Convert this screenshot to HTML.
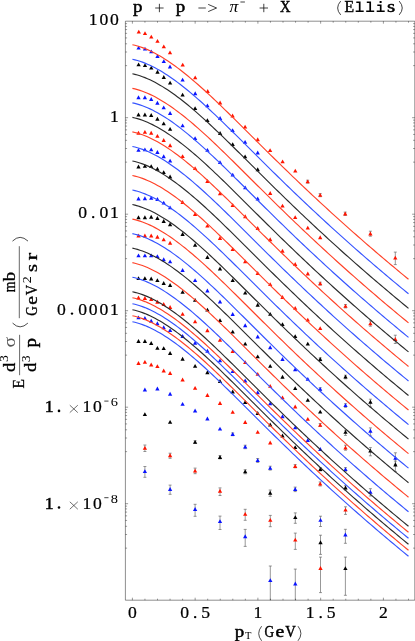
<!DOCTYPE html>
<html><head><meta charset="utf-8"><title>plot</title>
<style>html,body{margin:0;padding:0;background:#fff}svg{display:block}text{fill:#000}</style></head>
<body><svg width="415" height="641" viewBox="0 0 415 641" style="will-change:transform">
<rect width="415" height="641" fill="#fff"/>
<path d="M307.70,180.20V183.10M306.20,180.20h3M306.20,183.10h3M320.20,193.60V196.70M318.70,193.60h3M318.70,196.70h3M345.20,212.10V215.50M343.70,212.10h3M343.70,215.50h3M370.40,231.20V236.20M368.90,231.20h3M368.90,236.20h3M395.30,252.10V264.60M393.80,252.10h3M393.80,264.60h3M320.20,282.20V285.10M318.70,282.20h3M318.70,285.10h3M345.50,304.50V307.90M344.00,304.50h3M344.00,307.90h3M370.40,321.00V326.20M368.90,321.00h3M368.90,326.20h3M395.30,335.20V343.50M393.80,335.20h3M393.80,343.50h3M320.20,357.80V360.70M318.70,357.80h3M318.70,360.70h3M345.50,375.20V378.80M344.00,375.20h3M344.00,378.80h3M370.40,399.20V406.90M368.90,399.20h3M368.90,406.90h3M320.20,387.70V390.60M318.70,387.70h3M318.70,390.60h3M345.50,403.70V407.30M344.00,403.70h3M344.00,407.30h3M370.40,427.90V435.90M368.90,427.90h3M368.90,435.90h3M395.40,452.80V464.30M393.90,452.80h3M393.90,464.30h3M345.50,430.20V435.40M344.00,430.20h3M344.00,435.40h3M370.40,447.60V455.80M368.90,447.60h3M368.90,455.80h3M395.40,461.10V471.60M393.90,461.10h3M393.90,471.60h3M320.20,423.50V426.50M318.70,423.50h3M318.70,426.50h3M345.50,445.20V450.20M344.00,445.20h3M344.00,450.20h3M345.50,467.60V471.30M344.00,467.60h3M344.00,471.30h3M370.40,488.70V496.00M368.90,488.70h3M368.90,496.00h3M320.40,467.50V470.90M318.90,467.50h3M318.90,470.90h3M345.50,485.70V490.10M344.00,485.70h3M344.00,490.10h3M295.20,464.60V467.80M293.70,464.60h3M293.70,467.80h3M320.20,481.90V486.00M318.70,481.90h3M318.70,486.00h3M345.50,506.80V514.40M344.00,506.80h3M344.00,514.40h3M232.70,432.90V435.70M231.20,432.90h3M231.20,435.70h3M245.20,445.20V448.70M243.70,445.20h3M243.70,448.70h3M257.70,458.50V462.40M256.20,458.50h3M256.20,462.40h3M270.20,466.20V470.10M268.70,466.20h3M268.70,470.10h3M295.20,487.10V491.60M293.70,487.10h3M293.70,491.60h3M320.50,516.20V526.50M319.00,516.20h3M319.00,526.50h3M345.40,529.30V543.30M343.90,529.30h3M343.90,543.30h3M195.10,440.70V443.50M193.60,440.70h3M193.60,443.50h3M220.00,455.60V458.90M218.50,455.60h3M218.50,458.90h3M245.20,469.70V473.80M243.70,469.70h3M243.70,473.80h3M270.20,490.00V496.30M268.70,490.00h3M268.70,496.30h3M295.30,512.90V523.30M293.80,512.90h3M293.80,523.30h3M320.50,535.20V554.40M319.00,535.20h3M319.00,554.40h3M345.40,557.10V595.30M343.90,557.10h3M343.90,595.30h3M144.90,445.00V451.50M143.40,445.00h3M143.40,451.50h3M170.10,453.20V458.30M168.60,453.20h3M168.60,458.30h3M195.10,468.10V473.70M193.60,468.10h3M193.60,473.70h3M220.00,487.90V495.50M218.50,487.90h3M218.50,495.50h3M245.20,509.30V520.30M243.70,509.30h3M243.70,520.30h3M270.30,515.40V526.70M268.80,515.40h3M268.80,526.70h3M295.30,533.10V549.40M293.80,533.10h3M293.80,549.40h3M320.50,557.10V592.60M319.00,557.10h3M319.00,592.60h3M144.90,466.50V477.30M143.40,466.50h3M143.40,477.30h3M170.10,485.10V494.30M168.60,485.10h3M168.60,494.30h3M195.10,504.30V516.30M193.60,504.30h3M193.60,516.30h3M220.00,516.10V529.50M218.50,516.10h3M218.50,529.50h3M245.20,529.40V546.40M243.70,529.40h3M243.70,546.40h3M270.30,566.00V600.20M268.80,566.00h3M295.30,569.10V600.20M293.80,569.10h3" stroke="#606060" stroke-width="0.65" fill="none"/>
<path d="M136.65,33.60L140.95,33.60L138.80,29.70Z" fill="#ff1400"/>
<path d="M142.85,35.10L147.15,35.10L145.00,31.20Z" fill="#ff1400"/>
<path d="M149.15,38.60L153.45,38.60L151.30,34.70Z" fill="#ff1400"/>
<path d="M155.35,42.80L159.65,42.80L157.50,38.90Z" fill="#ff1400"/>
<path d="M161.65,48.30L165.95,48.30L163.80,44.40Z" fill="#ff1400"/>
<path d="M167.85,54.30L172.15,54.30L170.00,50.40Z" fill="#ff1400"/>
<path d="M180.55,66.60L184.85,66.60L182.70,62.70Z" fill="#ff1400"/>
<path d="M193.05,79.30L197.35,79.30L195.20,75.40Z" fill="#ff1400"/>
<path d="M205.55,92.90L209.85,92.90L207.70,89.00Z" fill="#ff1400"/>
<path d="M217.95,104.50L222.25,104.50L220.10,100.60Z" fill="#ff1400"/>
<path d="M230.45,117.40L234.75,117.40L232.60,113.50Z" fill="#ff1400"/>
<path d="M242.95,128.60L247.25,128.60L245.10,124.70Z" fill="#ff1400"/>
<path d="M255.55,141.20L259.85,141.20L257.70,137.30Z" fill="#ff1400"/>
<path d="M267.95,152.10L272.25,152.10L270.10,148.20Z" fill="#ff1400"/>
<path d="M280.45,163.30L284.75,163.30L282.60,159.40Z" fill="#ff1400"/>
<path d="M293.15,172.60L297.45,172.60L295.30,168.70Z" fill="#ff1400"/>
<path d="M305.55,183.30L309.85,183.30L307.70,179.40Z" fill="#ff1400"/>
<path d="M318.05,196.80L322.35,196.80L320.20,192.90Z" fill="#ff1400"/>
<path d="M343.05,215.40L347.35,215.40L345.20,211.50Z" fill="#ff1400"/>
<path d="M368.25,235.50L372.55,235.50L370.40,231.60Z" fill="#ff1400"/>
<path d="M393.15,259.60L397.45,259.60L395.30,255.70Z" fill="#ff1400"/>
<path d="M136.45,49.60L140.75,49.60L138.60,45.70Z" fill="#0a14ff"/>
<path d="M142.85,50.60L147.15,50.60L145.00,46.70Z" fill="#0a14ff"/>
<path d="M149.15,53.30L153.45,53.30L151.30,49.40Z" fill="#0a14ff"/>
<path d="M155.35,57.90L159.65,57.90L157.50,54.00Z" fill="#0a14ff"/>
<path d="M161.65,63.10L165.95,63.10L163.80,59.20Z" fill="#0a14ff"/>
<path d="M167.85,68.50L172.15,68.50L170.00,64.60Z" fill="#0a14ff"/>
<path d="M180.45,81.60L184.75,81.60L182.60,77.70Z" fill="#0a14ff"/>
<path d="M193.05,95.20L197.35,95.20L195.20,91.30Z" fill="#0a14ff"/>
<path d="M205.25,107.30L209.55,107.30L207.40,103.40Z" fill="#0a14ff"/>
<path d="M217.95,119.90L222.25,119.90L220.10,116.00Z" fill="#0a14ff"/>
<path d="M230.45,132.10L234.75,132.10L232.60,128.20Z" fill="#0a14ff"/>
<path d="M242.95,143.80L247.25,143.80L245.10,139.90Z" fill="#0a14ff"/>
<path d="M255.55,154.40L259.85,154.40L257.70,150.50Z" fill="#0a14ff"/>
<path d="M136.45,66.30L140.75,66.30L138.60,62.40Z" fill="#000000"/>
<path d="M142.85,67.10L147.15,67.10L145.00,63.20Z" fill="#000000"/>
<path d="M149.15,69.60L153.45,69.60L151.30,65.70Z" fill="#000000"/>
<path d="M155.35,73.70L159.65,73.70L157.50,69.80Z" fill="#000000"/>
<path d="M161.65,79.00L165.95,79.00L163.80,75.10Z" fill="#000000"/>
<path d="M167.95,84.60L172.25,84.60L170.10,80.70Z" fill="#000000"/>
<path d="M180.45,96.60L184.75,96.60L182.60,92.70Z" fill="#000000"/>
<path d="M192.95,110.10L197.25,110.10L195.10,106.20Z" fill="#000000"/>
<path d="M205.25,122.10L209.55,122.10L207.40,118.20Z" fill="#000000"/>
<path d="M217.95,135.00L222.25,135.00L220.10,131.10Z" fill="#000000"/>
<path d="M230.55,146.10L234.85,146.10L232.70,142.20Z" fill="#000000"/>
<path d="M242.95,158.30L247.25,158.30L245.10,154.40Z" fill="#000000"/>
<path d="M255.55,171.20L259.85,171.20L257.70,167.30Z" fill="#000000"/>
<path d="M268.05,195.00L272.35,195.00L270.20,191.10Z" fill="#ff1400"/>
<path d="M280.35,207.60L284.65,207.60L282.50,203.70Z" fill="#ff1400"/>
<path d="M293.05,219.10L297.35,219.10L295.20,215.20Z" fill="#ff1400"/>
<path d="M305.65,229.60L309.95,229.60L307.80,225.70Z" fill="#ff1400"/>
<path d="M318.05,239.20L322.35,239.20L320.20,235.30Z" fill="#ff1400"/>
<path d="M136.35,99.20L140.65,99.20L138.50,95.30Z" fill="#0a14ff"/>
<path d="M142.75,99.20L147.05,99.20L144.90,95.30Z" fill="#0a14ff"/>
<path d="M149.05,100.90L153.35,100.90L151.20,97.00Z" fill="#0a14ff"/>
<path d="M155.25,104.70L159.55,104.70L157.40,100.80Z" fill="#0a14ff"/>
<path d="M161.55,109.30L165.85,109.30L163.70,105.40Z" fill="#0a14ff"/>
<path d="M167.95,115.00L172.25,115.00L170.10,111.10Z" fill="#0a14ff"/>
<path d="M180.45,127.30L184.75,127.30L182.60,123.40Z" fill="#0a14ff"/>
<path d="M192.95,140.10L197.25,140.10L195.10,136.20Z" fill="#0a14ff"/>
<path d="M205.25,151.80L209.55,151.80L207.40,147.90Z" fill="#0a14ff"/>
<path d="M217.85,164.10L222.15,164.10L220.00,160.20Z" fill="#0a14ff"/>
<path d="M230.55,176.60L234.85,176.60L232.70,172.70Z" fill="#0a14ff"/>
<path d="M243.05,189.30L247.35,189.30L245.20,185.40Z" fill="#0a14ff"/>
<path d="M255.55,200.40L259.85,200.40L257.70,196.50Z" fill="#0a14ff"/>
<path d="M136.35,116.40L140.65,116.40L138.50,112.50Z" fill="#000000"/>
<path d="M142.75,116.40L147.05,116.40L144.90,112.50Z" fill="#000000"/>
<path d="M149.05,117.00L153.35,117.00L151.20,113.10Z" fill="#000000"/>
<path d="M155.25,120.70L159.55,120.70L157.40,116.80Z" fill="#000000"/>
<path d="M161.55,125.30L165.85,125.30L163.70,121.40Z" fill="#000000"/>
<path d="M167.95,130.80L172.25,130.80L170.10,126.90Z" fill="#000000"/>
<path d="M136.35,134.70L140.65,134.70L138.50,130.80Z" fill="#ff1400"/>
<path d="M142.75,133.80L147.05,133.80L144.90,129.90Z" fill="#ff1400"/>
<path d="M149.05,134.70L153.35,134.70L151.20,130.80Z" fill="#ff1400"/>
<path d="M155.25,137.80L159.55,137.80L157.40,133.90Z" fill="#ff1400"/>
<path d="M161.55,142.00L165.85,142.00L163.70,138.10Z" fill="#ff1400"/>
<path d="M167.95,147.20L172.25,147.20L170.10,143.30Z" fill="#ff1400"/>
<path d="M180.45,158.10L184.75,158.10L182.60,154.20Z" fill="#ff1400"/>
<path d="M192.95,170.10L197.25,170.10L195.10,166.20Z" fill="#ff1400"/>
<path d="M205.25,183.00L209.55,183.00L207.40,179.10Z" fill="#ff1400"/>
<path d="M217.85,195.30L222.15,195.30L220.00,191.40Z" fill="#ff1400"/>
<path d="M230.55,207.00L234.85,207.00L232.70,203.10Z" fill="#ff1400"/>
<path d="M243.05,218.20L247.35,218.20L245.20,214.30Z" fill="#ff1400"/>
<path d="M255.55,229.90L259.85,229.90L257.70,226.00Z" fill="#ff1400"/>
<path d="M268.05,241.20L272.35,241.20L270.20,237.30Z" fill="#ff1400"/>
<path d="M280.35,252.70L284.65,252.70L282.50,248.80Z" fill="#ff1400"/>
<path d="M293.05,265.90L297.35,265.90L295.20,262.00Z" fill="#ff1400"/>
<path d="M305.65,275.50L309.95,275.50L307.80,271.60Z" fill="#ff1400"/>
<path d="M318.05,285.30L322.35,285.30L320.20,281.40Z" fill="#ff1400"/>
<path d="M343.35,307.80L347.65,307.80L345.50,303.90Z" fill="#ff1400"/>
<path d="M368.25,325.30L372.55,325.30L370.40,321.40Z" fill="#ff1400"/>
<path d="M393.15,341.00L397.45,341.00L395.30,337.10Z" fill="#ff1400"/>
<path d="M136.35,151.80L140.65,151.80L138.50,147.90Z" fill="#0a14ff"/>
<path d="M142.75,151.30L147.05,151.30L144.90,147.40Z" fill="#0a14ff"/>
<path d="M149.05,151.30L153.35,151.30L151.20,147.40Z" fill="#0a14ff"/>
<path d="M155.25,153.90L159.55,153.90L157.40,150.00Z" fill="#0a14ff"/>
<path d="M161.55,158.20L165.85,158.20L163.70,154.30Z" fill="#0a14ff"/>
<path d="M167.95,162.60L172.25,162.60L170.10,158.70Z" fill="#0a14ff"/>
<path d="M136.35,168.50L140.65,168.50L138.50,164.60Z" fill="#000000"/>
<path d="M142.75,167.80L147.05,167.80L144.90,163.90Z" fill="#000000"/>
<path d="M149.05,168.10L153.35,168.10L151.20,164.20Z" fill="#000000"/>
<path d="M155.25,170.70L159.55,170.70L157.40,166.80Z" fill="#000000"/>
<path d="M161.55,174.10L165.85,174.10L163.70,170.20Z" fill="#000000"/>
<path d="M167.95,178.40L172.25,178.40L170.10,174.50Z" fill="#000000"/>
<path d="M180.45,204.00L184.75,204.00L182.60,200.10Z" fill="#ff1400"/>
<path d="M192.95,215.90L197.25,215.90L195.10,212.00Z" fill="#ff1400"/>
<path d="M205.25,227.60L209.55,227.60L207.40,223.70Z" fill="#ff1400"/>
<path d="M217.85,239.90L222.15,239.90L220.00,236.00Z" fill="#ff1400"/>
<path d="M230.55,251.00L234.85,251.00L232.70,247.10Z" fill="#ff1400"/>
<path d="M243.05,263.30L247.35,263.30L245.20,259.40Z" fill="#ff1400"/>
<path d="M255.55,275.00L259.85,275.00L257.70,271.10Z" fill="#ff1400"/>
<path d="M268.05,286.10L272.35,286.10L270.20,282.20Z" fill="#ff1400"/>
<path d="M280.35,299.00L284.65,299.00L282.50,295.10Z" fill="#ff1400"/>
<path d="M293.05,309.80L297.35,309.80L295.20,305.90Z" fill="#ff1400"/>
<path d="M305.65,321.60L309.95,321.60L307.80,317.70Z" fill="#ff1400"/>
<path d="M318.05,330.10L322.35,330.10L320.20,326.20Z" fill="#ff1400"/>
<path d="M136.35,200.40L140.65,200.40L138.50,196.50Z" fill="#0a14ff"/>
<path d="M142.75,200.20L147.05,200.20L144.90,196.30Z" fill="#0a14ff"/>
<path d="M149.05,199.80L153.35,199.80L151.20,195.90Z" fill="#0a14ff"/>
<path d="M155.25,201.00L159.55,201.00L157.40,197.10Z" fill="#0a14ff"/>
<path d="M161.55,204.60L165.85,204.60L163.70,200.70Z" fill="#0a14ff"/>
<path d="M167.95,209.30L172.25,209.30L170.10,205.40Z" fill="#0a14ff"/>
<path d="M136.35,219.20L140.65,219.20L138.50,215.30Z" fill="#000000"/>
<path d="M142.75,219.20L147.05,219.20L144.90,215.30Z" fill="#000000"/>
<path d="M149.05,218.70L153.35,218.70L151.20,214.80Z" fill="#000000"/>
<path d="M155.25,219.90L159.55,219.90L157.40,216.00Z" fill="#000000"/>
<path d="M161.55,223.00L165.85,223.00L163.70,219.10Z" fill="#000000"/>
<path d="M167.95,226.20L172.25,226.20L170.10,222.30Z" fill="#000000"/>
<path d="M180.45,236.00L184.75,236.00L182.60,232.10Z" fill="#000000"/>
<path d="M192.95,246.80L197.25,246.80L195.10,242.90Z" fill="#000000"/>
<path d="M205.25,259.00L209.55,259.00L207.40,255.10Z" fill="#000000"/>
<path d="M217.85,270.40L222.15,270.40L220.00,266.50Z" fill="#000000"/>
<path d="M230.55,282.10L234.85,282.10L232.70,278.20Z" fill="#000000"/>
<path d="M243.05,294.60L247.35,294.60L245.20,290.70Z" fill="#000000"/>
<path d="M255.55,306.70L259.85,306.70L257.70,302.80Z" fill="#000000"/>
<path d="M268.05,315.80L272.35,315.80L270.20,311.90Z" fill="#000000"/>
<path d="M280.35,326.10L284.65,326.10L282.50,322.20Z" fill="#000000"/>
<path d="M293.05,338.10L297.35,338.10L295.20,334.20Z" fill="#000000"/>
<path d="M305.65,345.60L309.95,345.60L307.80,341.70Z" fill="#000000"/>
<path d="M318.05,360.90L322.35,360.90L320.20,357.00Z" fill="#000000"/>
<path d="M343.35,378.60L347.65,378.60L345.50,374.70Z" fill="#000000"/>
<path d="M368.25,403.70L372.55,403.70L370.40,399.80Z" fill="#000000"/>
<path d="M136.35,237.50L140.65,237.50L138.50,233.60Z" fill="#ff1400"/>
<path d="M142.75,237.50L147.05,237.50L144.90,233.60Z" fill="#ff1400"/>
<path d="M149.05,237.50L153.35,237.50L151.20,233.60Z" fill="#ff1400"/>
<path d="M155.25,238.70L159.55,238.70L157.40,234.80Z" fill="#ff1400"/>
<path d="M161.55,241.30L165.85,241.30L163.70,237.40Z" fill="#ff1400"/>
<path d="M167.95,244.70L172.25,244.70L170.10,240.80Z" fill="#ff1400"/>
<path d="M136.35,257.30L140.65,257.30L138.50,253.40Z" fill="#0a14ff"/>
<path d="M142.75,257.30L147.05,257.30L144.90,253.40Z" fill="#0a14ff"/>
<path d="M149.05,257.30L153.35,257.30L151.20,253.40Z" fill="#0a14ff"/>
<path d="M155.25,258.10L159.55,258.10L157.40,254.20Z" fill="#0a14ff"/>
<path d="M161.55,261.20L165.85,261.20L163.70,257.30Z" fill="#0a14ff"/>
<path d="M167.95,263.30L172.25,263.30L170.10,259.40Z" fill="#0a14ff"/>
<path d="M180.45,272.00L184.75,272.00L182.60,268.10Z" fill="#0a14ff"/>
<path d="M192.95,282.10L197.25,282.10L195.10,278.20Z" fill="#0a14ff"/>
<path d="M205.25,292.40L209.55,292.40L207.40,288.50Z" fill="#0a14ff"/>
<path d="M217.85,303.50L222.15,303.50L220.00,299.60Z" fill="#0a14ff"/>
<path d="M230.55,315.90L234.85,315.90L232.70,312.00Z" fill="#0a14ff"/>
<path d="M243.05,327.20L247.35,327.20L245.20,323.30Z" fill="#0a14ff"/>
<path d="M255.55,338.40L259.85,338.40L257.70,334.50Z" fill="#0a14ff"/>
<path d="M268.05,349.20L272.35,349.20L270.20,345.30Z" fill="#0a14ff"/>
<path d="M280.35,360.90L284.65,360.90L282.50,357.00Z" fill="#0a14ff"/>
<path d="M293.05,371.20L297.35,371.20L295.20,367.30Z" fill="#0a14ff"/>
<path d="M305.65,380.80L309.95,380.80L307.80,376.90Z" fill="#0a14ff"/>
<path d="M318.05,390.80L322.35,390.80L320.20,386.90Z" fill="#0a14ff"/>
<path d="M343.35,407.10L347.65,407.10L345.50,403.20Z" fill="#0a14ff"/>
<path d="M368.25,432.70L372.55,432.70L370.40,428.80Z" fill="#0a14ff"/>
<path d="M393.25,459.80L397.55,459.80L395.40,455.90Z" fill="#0a14ff"/>
<path d="M136.35,280.10L140.65,280.10L138.50,276.20Z" fill="#000000"/>
<path d="M142.75,280.10L147.05,280.10L144.90,276.20Z" fill="#000000"/>
<path d="M149.05,280.40L153.35,280.40L151.20,276.50Z" fill="#000000"/>
<path d="M155.25,282.10L159.55,282.10L157.40,278.20Z" fill="#000000"/>
<path d="M161.55,285.00L165.85,285.00L163.70,281.10Z" fill="#000000"/>
<path d="M167.95,286.90L172.25,286.90L170.10,283.00Z" fill="#000000"/>
<path d="M180.45,293.80L184.75,293.80L182.60,289.90Z" fill="#000000"/>
<path d="M192.95,301.80L197.25,301.80L195.10,297.90Z" fill="#000000"/>
<path d="M205.25,311.60L209.55,311.60L207.40,307.70Z" fill="#000000"/>
<path d="M217.85,322.10L222.15,322.10L220.00,318.20Z" fill="#000000"/>
<path d="M230.55,333.60L234.85,333.60L232.70,329.70Z" fill="#000000"/>
<path d="M243.05,345.60L247.35,345.60L245.20,341.70Z" fill="#000000"/>
<path d="M255.55,358.30L259.85,358.30L257.70,354.40Z" fill="#000000"/>
<path d="M268.05,367.80L272.35,367.80L270.20,363.90Z" fill="#000000"/>
<path d="M280.35,378.70L284.65,378.70L282.50,374.80Z" fill="#000000"/>
<path d="M293.05,390.10L297.35,390.10L295.20,386.20Z" fill="#000000"/>
<path d="M305.65,401.80L309.95,401.80L307.80,397.90Z" fill="#000000"/>
<path d="M318.05,413.60L322.35,413.60L320.20,409.70Z" fill="#000000"/>
<path d="M343.35,433.80L347.65,433.80L345.50,429.90Z" fill="#000000"/>
<path d="M368.25,452.60L372.55,452.60L370.40,448.70Z" fill="#000000"/>
<path d="M393.25,466.40L397.55,466.40L395.40,462.50Z" fill="#000000"/>
<path d="M136.35,299.50L140.65,299.50L138.50,295.60Z" fill="#ff1400"/>
<path d="M142.75,300.00L147.05,300.00L144.90,296.10Z" fill="#ff1400"/>
<path d="M149.05,300.90L153.35,300.90L151.20,297.00Z" fill="#ff1400"/>
<path d="M155.25,303.70L159.55,303.70L157.40,299.80Z" fill="#ff1400"/>
<path d="M161.55,305.90L165.85,305.90L163.70,302.00Z" fill="#ff1400"/>
<path d="M167.95,309.00L172.25,309.00L170.10,305.10Z" fill="#ff1400"/>
<path d="M180.45,315.80L184.75,315.80L182.60,311.90Z" fill="#ff1400"/>
<path d="M192.95,323.30L197.25,323.30L195.10,319.40Z" fill="#ff1400"/>
<path d="M205.25,332.20L209.55,332.20L207.40,328.30Z" fill="#ff1400"/>
<path d="M217.85,341.80L222.15,341.80L220.00,337.90Z" fill="#ff1400"/>
<path d="M230.55,352.90L234.85,352.90L232.70,349.00Z" fill="#ff1400"/>
<path d="M243.05,364.10L247.35,364.10L245.20,360.20Z" fill="#ff1400"/>
<path d="M255.55,375.80L259.85,375.80L257.70,371.90Z" fill="#ff1400"/>
<path d="M268.05,387.80L272.35,387.80L270.20,383.90Z" fill="#ff1400"/>
<path d="M280.35,399.30L284.65,399.30L282.50,395.40Z" fill="#ff1400"/>
<path d="M293.05,408.40L297.35,408.40L295.20,404.50Z" fill="#ff1400"/>
<path d="M305.65,420.80L309.95,420.80L307.80,416.90Z" fill="#ff1400"/>
<path d="M318.05,426.80L322.35,426.80L320.20,422.90Z" fill="#ff1400"/>
<path d="M343.35,449.50L347.65,449.50L345.50,445.60Z" fill="#ff1400"/>
<path d="M136.35,319.30L140.65,319.30L138.50,315.40Z" fill="#0a14ff"/>
<path d="M142.75,320.00L147.05,320.00L144.90,316.10Z" fill="#0a14ff"/>
<path d="M149.05,322.70L153.35,322.70L151.20,318.80Z" fill="#0a14ff"/>
<path d="M155.25,325.20L159.55,325.20L157.40,321.30Z" fill="#0a14ff"/>
<path d="M161.55,329.20L165.85,329.20L163.70,325.30Z" fill="#0a14ff"/>
<path d="M167.95,332.10L172.25,332.10L170.10,328.20Z" fill="#0a14ff"/>
<path d="M180.45,337.90L184.75,337.90L182.60,334.00Z" fill="#0a14ff"/>
<path d="M192.95,344.70L197.25,344.70L195.10,340.80Z" fill="#0a14ff"/>
<path d="M205.25,352.70L209.55,352.70L207.40,348.80Z" fill="#0a14ff"/>
<path d="M217.85,362.30L222.15,362.30L220.00,358.40Z" fill="#0a14ff"/>
<path d="M230.55,373.00L234.85,373.00L232.70,369.10Z" fill="#0a14ff"/>
<path d="M243.05,382.50L247.35,382.50L245.20,378.60Z" fill="#0a14ff"/>
<path d="M255.55,394.20L259.85,394.20L257.70,390.30Z" fill="#0a14ff"/>
<path d="M268.05,405.30L272.35,405.30L270.20,401.40Z" fill="#0a14ff"/>
<path d="M280.35,418.20L284.65,418.20L282.50,414.30Z" fill="#0a14ff"/>
<path d="M293.05,429.30L297.35,429.30L295.20,425.40Z" fill="#0a14ff"/>
<path d="M305.65,442.00L309.95,442.00L307.80,438.10Z" fill="#0a14ff"/>
<path d="M318.15,450.90L322.45,450.90L320.30,447.00Z" fill="#0a14ff"/>
<path d="M343.35,471.10L347.65,471.10L345.50,467.20Z" fill="#0a14ff"/>
<path d="M368.25,493.80L372.55,493.80L370.40,489.90Z" fill="#0a14ff"/>
<path d="M136.35,342.90L140.65,342.90L138.50,339.00Z" fill="#000000"/>
<path d="M142.75,342.90L147.05,342.90L144.90,339.00Z" fill="#000000"/>
<path d="M149.05,345.00L153.35,345.00L151.20,341.10Z" fill="#000000"/>
<path d="M155.25,349.80L159.55,349.80L157.40,345.90Z" fill="#000000"/>
<path d="M161.55,350.10L165.85,350.10L163.70,346.20Z" fill="#000000"/>
<path d="M167.95,354.90L172.25,354.90L170.10,351.00Z" fill="#000000"/>
<path d="M180.45,360.70L184.75,360.70L182.60,356.80Z" fill="#000000"/>
<path d="M192.95,367.80L197.25,367.80L195.10,363.90Z" fill="#000000"/>
<path d="M205.25,374.20L209.55,374.20L207.40,370.30Z" fill="#000000"/>
<path d="M217.85,382.90L222.15,382.90L220.00,379.00Z" fill="#000000"/>
<path d="M230.55,393.50L234.85,393.50L232.70,389.60Z" fill="#000000"/>
<path d="M243.05,404.00L247.35,404.00L245.20,400.10Z" fill="#000000"/>
<path d="M255.55,414.90L259.85,414.90L257.70,411.00Z" fill="#000000"/>
<path d="M268.05,426.50L272.35,426.50L270.20,422.60Z" fill="#000000"/>
<path d="M280.35,437.40L284.65,437.40L282.50,433.50Z" fill="#000000"/>
<path d="M293.05,449.10L297.35,449.10L295.20,445.20Z" fill="#000000"/>
<path d="M318.25,470.90L322.55,470.90L320.40,467.00Z" fill="#000000"/>
<path d="M343.35,489.50L347.65,489.50L345.50,485.60Z" fill="#000000"/>
<path d="M136.35,365.00L140.65,365.00L138.50,361.10Z" fill="#ff1400"/>
<path d="M142.75,363.80L147.05,363.80L144.90,359.90Z" fill="#ff1400"/>
<path d="M149.05,366.40L153.35,366.40L151.20,362.50Z" fill="#ff1400"/>
<path d="M155.25,368.10L159.55,368.10L157.40,364.20Z" fill="#ff1400"/>
<path d="M161.55,372.40L165.85,372.40L163.70,368.50Z" fill="#ff1400"/>
<path d="M167.95,375.00L172.25,375.00L170.10,371.10Z" fill="#ff1400"/>
<path d="M180.45,381.40L184.75,381.40L182.60,377.50Z" fill="#ff1400"/>
<path d="M192.95,389.80L197.25,389.80L195.10,385.90Z" fill="#ff1400"/>
<path d="M205.25,397.00L209.55,397.00L207.40,393.10Z" fill="#ff1400"/>
<path d="M217.85,405.00L222.15,405.00L220.00,401.10Z" fill="#ff1400"/>
<path d="M230.55,413.80L234.85,413.80L232.70,409.90Z" fill="#ff1400"/>
<path d="M243.05,424.00L247.35,424.00L245.20,420.10Z" fill="#ff1400"/>
<path d="M255.55,433.80L259.85,433.80L257.70,429.90Z" fill="#ff1400"/>
<path d="M268.05,444.40L272.35,444.40L270.20,440.50Z" fill="#ff1400"/>
<path d="M293.05,467.90L297.35,467.90L295.20,464.00Z" fill="#ff1400"/>
<path d="M318.05,485.60L322.35,485.60L320.20,481.70Z" fill="#ff1400"/>
<path d="M343.35,511.60L347.65,511.60L345.50,507.70Z" fill="#ff1400"/>
<path d="M142.75,391.50L147.05,391.50L144.90,387.60Z" fill="#0a14ff"/>
<path d="M155.25,390.50L159.55,390.50L157.40,386.60Z" fill="#0a14ff"/>
<path d="M167.95,395.70L172.25,395.70L170.10,391.80Z" fill="#0a14ff"/>
<path d="M180.45,405.80L184.75,405.80L182.60,401.90Z" fill="#0a14ff"/>
<path d="M192.95,412.40L197.25,412.40L195.10,408.50Z" fill="#0a14ff"/>
<path d="M205.25,420.50L209.55,420.50L207.40,416.60Z" fill="#0a14ff"/>
<path d="M217.85,430.60L222.15,430.60L220.00,426.70Z" fill="#0a14ff"/>
<path d="M230.55,436.00L234.85,436.00L232.70,432.10Z" fill="#0a14ff"/>
<path d="M243.05,448.60L247.35,448.60L245.20,444.70Z" fill="#0a14ff"/>
<path d="M255.55,462.10L259.85,462.10L257.70,458.20Z" fill="#0a14ff"/>
<path d="M268.05,469.80L272.35,469.80L270.20,465.90Z" fill="#0a14ff"/>
<path d="M293.05,490.90L297.35,490.90L295.20,487.00Z" fill="#0a14ff"/>
<path d="M318.35,521.80L322.65,521.80L320.50,517.90Z" fill="#0a14ff"/>
<path d="M343.25,536.50L347.55,536.50L345.40,532.60Z" fill="#0a14ff"/>
<path d="M142.75,416.10L147.05,416.10L144.90,412.20Z" fill="#000000"/>
<path d="M167.95,423.80L172.25,423.80L170.10,419.90Z" fill="#000000"/>
<path d="M192.95,443.80L197.25,443.80L195.10,439.90Z" fill="#000000"/>
<path d="M217.85,458.90L222.15,458.90L220.00,455.00Z" fill="#000000"/>
<path d="M243.05,473.30L247.35,473.30L245.20,469.40Z" fill="#000000"/>
<path d="M268.05,494.70L272.35,494.70L270.20,490.80Z" fill="#000000"/>
<path d="M293.15,519.10L297.45,519.10L295.30,515.20Z" fill="#000000"/>
<path d="M318.35,544.20L322.65,544.20L320.50,540.30Z" fill="#000000"/>
<path d="M343.25,570.10L347.55,570.10L345.40,566.20Z" fill="#000000"/>
<path d="M142.75,449.80L147.05,449.80L144.90,445.90Z" fill="#ff1400"/>
<path d="M167.95,457.20L172.25,457.20L170.10,453.30Z" fill="#ff1400"/>
<path d="M192.95,472.60L197.25,472.60L195.10,468.70Z" fill="#ff1400"/>
<path d="M217.85,492.70L222.15,492.70L220.00,488.80Z" fill="#ff1400"/>
<path d="M243.05,515.80L247.35,515.80L245.20,511.90Z" fill="#ff1400"/>
<path d="M268.15,521.80L272.45,521.80L270.30,517.90Z" fill="#ff1400"/>
<path d="M293.15,541.60L297.45,541.60L295.30,537.70Z" fill="#ff1400"/>
<path d="M318.35,569.90L322.65,569.90L320.50,566.00Z" fill="#ff1400"/>
<path d="M142.75,473.10L147.05,473.10L144.90,469.20Z" fill="#0a14ff"/>
<path d="M167.95,490.90L172.25,490.90L170.10,487.00Z" fill="#0a14ff"/>
<path d="M192.95,511.00L197.25,511.00L195.10,507.10Z" fill="#0a14ff"/>
<path d="M217.85,523.10L222.15,523.10L220.00,519.20Z" fill="#0a14ff"/>
<path d="M243.05,538.20L247.35,538.20L245.20,534.30Z" fill="#0a14ff"/>
<path d="M268.15,582.10L272.45,582.10L270.30,578.20Z" fill="#0a14ff"/>
<path d="M293.15,585.50L297.45,585.50L295.30,581.60Z" fill="#0a14ff"/>
<polyline fill="none" stroke="#ff4228" stroke-width="1.15" points="132.40,44.73 134.91,45.31 137.42,45.99 139.93,46.76 142.44,47.63 144.95,48.59 147.46,49.64 149.97,50.77 152.48,51.98 154.99,53.27 157.50,54.63 160.01,56.07 162.52,57.57 165.03,59.14 167.54,60.77 170.05,62.46 172.56,64.21 175.07,66.01 177.58,67.86 180.09,69.77 182.60,71.72 185.11,73.71 187.62,75.75 190.13,77.83 192.64,79.95 195.15,82.11 197.66,84.29 200.17,86.51 202.68,88.76 205.19,91.04 207.70,93.35 210.21,95.68 212.72,98.03 215.23,100.40 217.74,102.79 220.25,105.20 222.76,107.63 225.27,110.06 227.78,112.51 230.29,114.97 232.80,117.44 235.31,119.92 237.82,122.41 240.33,124.90 242.84,127.39 245.35,129.89 247.86,132.39 250.37,134.89 252.88,137.39 255.39,139.89 257.90,142.38 260.41,144.87 262.92,147.36 265.43,149.85 267.94,152.33 270.45,154.81 272.96,157.28 275.47,159.74 277.98,162.20 280.49,164.65 283.00,167.09 285.51,169.53 288.02,171.96 290.53,174.38 293.04,176.79 295.55,179.20 298.06,181.60 300.57,183.99 303.08,186.37 305.59,188.75 308.10,191.11 310.61,193.47 313.12,195.82 315.63,198.16 318.14,200.50 320.65,202.83 323.16,205.14 325.67,207.45 328.18,209.76 330.69,212.05 333.20,214.34 335.71,216.61 338.22,218.88 340.73,221.14 343.24,223.40 345.75,225.64 348.26,227.88 350.77,230.11 353.28,232.33 355.79,234.54 358.30,236.74 360.81,238.94 363.32,241.13 365.83,243.31 368.34,245.48 370.85,247.65 373.36,249.81 375.87,251.96 378.38,254.10 380.89,256.24 383.40,258.37 385.91,260.49 388.42,262.60 390.93,264.71 393.44,266.81 395.95,268.90 398.46,270.99 400.97,273.07 403.48,275.15 405.99,277.21 408.50,279.27"/>
<polyline fill="none" stroke="#3654ff" stroke-width="1.15" points="132.40,59.26 134.91,59.84 137.42,60.52 139.93,61.29 142.44,62.16 144.95,63.12 147.46,64.17 149.97,65.30 152.48,66.51 154.99,67.80 157.50,69.16 160.01,70.60 162.52,72.10 165.03,73.67 167.54,75.30 170.05,76.99 172.56,78.74 175.07,80.54 177.58,82.39 180.09,84.30 182.60,86.25 185.11,88.24 187.62,90.28 190.13,92.36 192.64,94.48 195.15,96.64 197.66,98.82 200.17,101.04 202.68,103.29 205.19,105.57 207.70,107.88 210.21,110.21 212.72,112.56 215.23,114.93 217.74,117.32 220.25,119.73 222.76,122.16 225.27,124.59 227.78,127.04 230.29,129.50 232.80,131.97 235.31,134.45 237.82,136.94 240.33,139.43 242.84,141.92 245.35,144.42 247.86,146.92 250.37,149.42 252.88,151.92 255.39,154.42 257.90,156.91 260.41,159.40 262.92,161.89 265.43,164.38 267.94,166.86 270.45,169.34 272.96,171.81 275.47,174.27 277.98,176.73 280.49,179.18 283.00,181.62 285.51,184.06 288.02,186.49 290.53,188.91 293.04,191.32 295.55,193.73 298.06,196.13 300.57,198.52 303.08,200.90 305.59,203.28 308.10,205.64 310.61,208.00 313.12,210.35 315.63,212.69 318.14,215.03 320.65,217.36 323.16,219.67 325.67,221.98 328.18,224.29 330.69,226.58 333.20,228.87 335.71,231.14 338.22,233.41 340.73,235.67 343.24,237.93 345.75,240.17 348.26,242.41 350.77,244.64 353.28,246.86 355.79,249.07 358.30,251.27 360.81,253.47 363.32,255.66 365.83,257.84 368.34,260.01 370.85,262.18 373.36,264.34 375.87,266.49 378.38,268.63 380.89,270.77 383.40,272.90 385.91,275.02 388.42,277.13 390.93,279.24 393.44,281.34 395.95,283.43 398.46,285.52 400.97,287.60 403.48,289.68 405.99,291.74 408.50,293.80"/>
<polyline fill="none" stroke="#2c2c2c" stroke-width="1.15" points="132.40,73.79 134.91,74.37 137.42,75.05 139.93,75.82 142.44,76.69 144.95,77.65 147.46,78.70 149.97,79.83 152.48,81.04 154.99,82.33 157.50,83.69 160.01,85.13 162.52,86.63 165.03,88.20 167.54,89.83 170.05,91.52 172.56,93.27 175.07,95.07 177.58,96.92 180.09,98.83 182.60,100.78 185.11,102.77 187.62,104.81 190.13,106.89 192.64,109.01 195.15,111.17 197.66,113.35 200.17,115.57 202.68,117.82 205.19,120.10 207.70,122.41 210.21,124.74 212.72,127.09 215.23,129.46 217.74,131.85 220.25,134.26 222.76,136.69 225.27,139.12 227.78,141.57 230.29,144.03 232.80,146.50 235.31,148.98 237.82,151.47 240.33,153.96 242.84,156.45 245.35,158.95 247.86,161.45 250.37,163.95 252.88,166.45 255.39,168.95 257.90,171.44 260.41,173.93 262.92,176.42 265.43,178.91 267.94,181.39 270.45,183.87 272.96,186.34 275.47,188.80 277.98,191.26 280.49,193.71 283.00,196.15 285.51,198.59 288.02,201.02 290.53,203.44 293.04,205.85 295.55,208.26 298.06,210.66 300.57,213.05 303.08,215.43 305.59,217.81 308.10,220.17 310.61,222.53 313.12,224.88 315.63,227.22 318.14,229.56 320.65,231.89 323.16,234.20 325.67,236.51 328.18,238.82 330.69,241.11 333.20,243.40 335.71,245.67 338.22,247.94 340.73,250.20 343.24,252.46 345.75,254.70 348.26,256.94 350.77,259.17 353.28,261.39 355.79,263.60 358.30,265.80 360.81,268.00 363.32,270.19 365.83,272.37 368.34,274.54 370.85,276.71 373.36,278.87 375.87,281.02 378.38,283.16 380.89,285.30 383.40,287.43 385.91,289.55 388.42,291.66 390.93,293.77 393.44,295.87 395.95,297.96 398.46,300.05 400.97,302.13 403.48,304.21 405.99,306.27 408.50,308.33"/>
<polyline fill="none" stroke="#ff4228" stroke-width="1.15" points="132.40,88.32 134.91,88.90 137.42,89.58 139.93,90.35 142.44,91.22 144.95,92.18 147.46,93.23 149.97,94.36 152.48,95.57 154.99,96.86 157.50,98.22 160.01,99.66 162.52,101.16 165.03,102.73 167.54,104.36 170.05,106.05 172.56,107.80 175.07,109.60 177.58,111.45 180.09,113.36 182.60,115.31 185.11,117.30 187.62,119.34 190.13,121.42 192.64,123.54 195.15,125.70 197.66,127.88 200.17,130.10 202.68,132.35 205.19,134.63 207.70,136.94 210.21,139.27 212.72,141.62 215.23,143.99 217.74,146.38 220.25,148.79 222.76,151.22 225.27,153.65 227.78,156.10 230.29,158.56 232.80,161.03 235.31,163.51 237.82,166.00 240.33,168.49 242.84,170.98 245.35,173.48 247.86,175.98 250.37,178.48 252.88,180.98 255.39,183.48 257.90,185.97 260.41,188.46 262.92,190.95 265.43,193.44 267.94,195.92 270.45,198.40 272.96,200.87 275.47,203.33 277.98,205.79 280.49,208.24 283.00,210.68 285.51,213.12 288.02,215.55 290.53,217.97 293.04,220.38 295.55,222.79 298.06,225.19 300.57,227.58 303.08,229.96 305.59,232.34 308.10,234.70 310.61,237.06 313.12,239.41 315.63,241.75 318.14,244.09 320.65,246.42 323.16,248.73 325.67,251.04 328.18,253.35 330.69,255.64 333.20,257.93 335.71,260.20 338.22,262.47 340.73,264.73 343.24,266.99 345.75,269.23 348.26,271.47 350.77,273.70 353.28,275.92 355.79,278.13 358.30,280.33 360.81,282.53 363.32,284.72 365.83,286.90 368.34,289.07 370.85,291.24 373.36,293.40 375.87,295.55 378.38,297.69 380.89,299.83 383.40,301.96 385.91,304.08 388.42,306.19 390.93,308.30 393.44,310.40 395.95,312.49 398.46,314.58 400.97,316.66 403.48,318.74 405.99,320.80 408.50,322.86"/>
<polyline fill="none" stroke="#3654ff" stroke-width="1.15" points="132.40,102.85 134.91,103.43 137.42,104.11 139.93,104.88 142.44,105.75 144.95,106.71 147.46,107.76 149.97,108.89 152.48,110.10 154.99,111.39 157.50,112.75 160.01,114.19 162.52,115.69 165.03,117.26 167.54,118.89 170.05,120.58 172.56,122.33 175.07,124.13 177.58,125.98 180.09,127.89 182.60,129.84 185.11,131.83 187.62,133.87 190.13,135.95 192.64,138.07 195.15,140.23 197.66,142.41 200.17,144.63 202.68,146.88 205.19,149.16 207.70,151.47 210.21,153.80 212.72,156.15 215.23,158.52 217.74,160.91 220.25,163.32 222.76,165.75 225.27,168.18 227.78,170.63 230.29,173.09 232.80,175.56 235.31,178.04 237.82,180.53 240.33,183.02 242.84,185.51 245.35,188.01 247.86,190.51 250.37,193.01 252.88,195.51 255.39,198.01 257.90,200.50 260.41,202.99 262.92,205.48 265.43,207.97 267.94,210.45 270.45,212.93 272.96,215.40 275.47,217.86 277.98,220.32 280.49,222.77 283.00,225.21 285.51,227.65 288.02,230.08 290.53,232.50 293.04,234.91 295.55,237.32 298.06,239.72 300.57,242.11 303.08,244.49 305.59,246.87 308.10,249.23 310.61,251.59 313.12,253.94 315.63,256.28 318.14,258.62 320.65,260.95 323.16,263.26 325.67,265.57 328.18,267.88 330.69,270.17 333.20,272.46 335.71,274.73 338.22,277.00 340.73,279.26 343.24,281.52 345.75,283.76 348.26,286.00 350.77,288.23 353.28,290.45 355.79,292.66 358.30,294.86 360.81,297.06 363.32,299.25 365.83,301.43 368.34,303.60 370.85,305.77 373.36,307.93 375.87,310.08 378.38,312.22 380.89,314.36 383.40,316.49 385.91,318.61 388.42,320.72 390.93,322.83 393.44,324.93 395.95,327.02 398.46,329.11 400.97,331.19 403.48,333.27 405.99,335.33 408.50,337.39"/>
<polyline fill="none" stroke="#2c2c2c" stroke-width="1.15" points="132.40,117.38 134.91,117.96 137.42,118.64 139.93,119.41 142.44,120.28 144.95,121.24 147.46,122.29 149.97,123.42 152.48,124.63 154.99,125.92 157.50,127.28 160.01,128.72 162.52,130.22 165.03,131.79 167.54,133.42 170.05,135.11 172.56,136.86 175.07,138.66 177.58,140.51 180.09,142.42 182.60,144.37 185.11,146.36 187.62,148.40 190.13,150.48 192.64,152.60 195.15,154.76 197.66,156.94 200.17,159.16 202.68,161.41 205.19,163.69 207.70,166.00 210.21,168.33 212.72,170.68 215.23,173.05 217.74,175.44 220.25,177.85 222.76,180.28 225.27,182.71 227.78,185.16 230.29,187.62 232.80,190.09 235.31,192.57 237.82,195.06 240.33,197.55 242.84,200.04 245.35,202.54 247.86,205.04 250.37,207.54 252.88,210.04 255.39,212.54 257.90,215.03 260.41,217.52 262.92,220.01 265.43,222.50 267.94,224.98 270.45,227.46 272.96,229.93 275.47,232.39 277.98,234.85 280.49,237.30 283.00,239.74 285.51,242.18 288.02,244.61 290.53,247.03 293.04,249.44 295.55,251.85 298.06,254.25 300.57,256.64 303.08,259.02 305.59,261.40 308.10,263.76 310.61,266.12 313.12,268.47 315.63,270.81 318.14,273.15 320.65,275.48 323.16,277.79 325.67,280.10 328.18,282.41 330.69,284.70 333.20,286.99 335.71,289.26 338.22,291.53 340.73,293.79 343.24,296.05 345.75,298.29 348.26,300.53 350.77,302.76 353.28,304.98 355.79,307.19 358.30,309.39 360.81,311.59 363.32,313.78 365.83,315.96 368.34,318.13 370.85,320.30 373.36,322.46 375.87,324.61 378.38,326.75 380.89,328.89 383.40,331.02 385.91,333.14 388.42,335.25 390.93,337.36 393.44,339.46 395.95,341.55 398.46,343.64 400.97,345.72 403.48,347.80 405.99,349.86 408.50,351.92"/>
<polyline fill="none" stroke="#ff4228" stroke-width="1.15" points="132.40,131.91 134.91,132.49 137.42,133.17 139.93,133.94 142.44,134.81 144.95,135.77 147.46,136.82 149.97,137.95 152.48,139.16 154.99,140.45 157.50,141.81 160.01,143.25 162.52,144.75 165.03,146.32 167.54,147.95 170.05,149.64 172.56,151.39 175.07,153.19 177.58,155.04 180.09,156.95 182.60,158.90 185.11,160.89 187.62,162.93 190.13,165.01 192.64,167.13 195.15,169.29 197.66,171.47 200.17,173.69 202.68,175.94 205.19,178.22 207.70,180.53 210.21,182.86 212.72,185.21 215.23,187.58 217.74,189.97 220.25,192.38 222.76,194.81 225.27,197.24 227.78,199.69 230.29,202.15 232.80,204.62 235.31,207.10 237.82,209.59 240.33,212.08 242.84,214.57 245.35,217.07 247.86,219.57 250.37,222.07 252.88,224.57 255.39,227.07 257.90,229.56 260.41,232.05 262.92,234.54 265.43,237.03 267.94,239.51 270.45,241.99 272.96,244.46 275.47,246.92 277.98,249.38 280.49,251.83 283.00,254.27 285.51,256.71 288.02,259.14 290.53,261.56 293.04,263.97 295.55,266.38 298.06,268.78 300.57,271.17 303.08,273.55 305.59,275.93 308.10,278.29 310.61,280.65 313.12,283.00 315.63,285.34 318.14,287.68 320.65,290.01 323.16,292.32 325.67,294.63 328.18,296.94 330.69,299.23 333.20,301.52 335.71,303.79 338.22,306.06 340.73,308.32 343.24,310.58 345.75,312.82 348.26,315.06 350.77,317.29 353.28,319.51 355.79,321.72 358.30,323.92 360.81,326.12 363.32,328.31 365.83,330.49 368.34,332.66 370.85,334.83 373.36,336.99 375.87,339.14 378.38,341.28 380.89,343.42 383.40,345.55 385.91,347.67 388.42,349.78 390.93,351.89 393.44,353.99 395.95,356.08 398.46,358.17 400.97,360.25 403.48,362.33 405.99,364.39 408.50,366.45"/>
<polyline fill="none" stroke="#3654ff" stroke-width="1.15" points="132.40,146.44 134.91,147.02 137.42,147.70 139.93,148.47 142.44,149.34 144.95,150.30 147.46,151.35 149.97,152.48 152.48,153.69 154.99,154.98 157.50,156.34 160.01,157.78 162.52,159.28 165.03,160.85 167.54,162.48 170.05,164.17 172.56,165.92 175.07,167.72 177.58,169.57 180.09,171.48 182.60,173.43 185.11,175.42 187.62,177.46 190.13,179.54 192.64,181.66 195.15,183.82 197.66,186.00 200.17,188.22 202.68,190.47 205.19,192.75 207.70,195.06 210.21,197.39 212.72,199.74 215.23,202.11 217.74,204.50 220.25,206.91 222.76,209.34 225.27,211.77 227.78,214.22 230.29,216.68 232.80,219.15 235.31,221.63 237.82,224.12 240.33,226.61 242.84,229.10 245.35,231.60 247.86,234.10 250.37,236.60 252.88,239.10 255.39,241.60 257.90,244.09 260.41,246.58 262.92,249.07 265.43,251.56 267.94,254.04 270.45,256.52 272.96,258.99 275.47,261.45 277.98,263.91 280.49,266.36 283.00,268.80 285.51,271.24 288.02,273.67 290.53,276.09 293.04,278.50 295.55,280.91 298.06,283.31 300.57,285.70 303.08,288.08 305.59,290.46 308.10,292.82 310.61,295.18 313.12,297.53 315.63,299.87 318.14,302.21 320.65,304.54 323.16,306.85 325.67,309.16 328.18,311.47 330.69,313.76 333.20,316.05 335.71,318.32 338.22,320.59 340.73,322.85 343.24,325.11 345.75,327.35 348.26,329.59 350.77,331.82 353.28,334.04 355.79,336.25 358.30,338.45 360.81,340.65 363.32,342.84 365.83,345.02 368.34,347.19 370.85,349.36 373.36,351.52 375.87,353.67 378.38,355.81 380.89,357.95 383.40,360.08 385.91,362.20 388.42,364.31 390.93,366.42 393.44,368.52 395.95,370.61 398.46,372.70 400.97,374.78 403.48,376.86 405.99,378.92 408.50,380.98"/>
<polyline fill="none" stroke="#2c2c2c" stroke-width="1.15" points="132.40,160.97 134.91,161.55 137.42,162.23 139.93,163.00 142.44,163.87 144.95,164.83 147.46,165.88 149.97,167.01 152.48,168.22 154.99,169.51 157.50,170.87 160.01,172.31 162.52,173.81 165.03,175.38 167.54,177.01 170.05,178.70 172.56,180.45 175.07,182.25 177.58,184.10 180.09,186.01 182.60,187.96 185.11,189.95 187.62,191.99 190.13,194.07 192.64,196.19 195.15,198.35 197.66,200.53 200.17,202.75 202.68,205.00 205.19,207.28 207.70,209.59 210.21,211.92 212.72,214.27 215.23,216.64 217.74,219.03 220.25,221.44 222.76,223.87 225.27,226.30 227.78,228.75 230.29,231.21 232.80,233.68 235.31,236.16 237.82,238.65 240.33,241.14 242.84,243.63 245.35,246.13 247.86,248.63 250.37,251.13 252.88,253.63 255.39,256.13 257.90,258.62 260.41,261.11 262.92,263.60 265.43,266.09 267.94,268.57 270.45,271.05 272.96,273.52 275.47,275.98 277.98,278.44 280.49,280.89 283.00,283.33 285.51,285.77 288.02,288.20 290.53,290.62 293.04,293.03 295.55,295.44 298.06,297.84 300.57,300.23 303.08,302.61 305.59,304.99 308.10,307.35 310.61,309.71 313.12,312.06 315.63,314.40 318.14,316.74 320.65,319.07 323.16,321.38 325.67,323.69 328.18,326.00 330.69,328.29 333.20,330.58 335.71,332.85 338.22,335.12 340.73,337.38 343.24,339.64 345.75,341.88 348.26,344.12 350.77,346.35 353.28,348.57 355.79,350.78 358.30,352.98 360.81,355.18 363.32,357.37 365.83,359.55 368.34,361.72 370.85,363.89 373.36,366.05 375.87,368.20 378.38,370.34 380.89,372.48 383.40,374.61 385.91,376.73 388.42,378.84 390.93,380.95 393.44,383.05 395.95,385.14 398.46,387.23 400.97,389.31 403.48,391.39 405.99,393.45 408.50,395.51"/>
<polyline fill="none" stroke="#ff4228" stroke-width="1.15" points="132.40,175.50 134.91,176.08 137.42,176.76 139.93,177.53 142.44,178.40 144.95,179.36 147.46,180.41 149.97,181.54 152.48,182.75 154.99,184.04 157.50,185.40 160.01,186.84 162.52,188.34 165.03,189.91 167.54,191.54 170.05,193.23 172.56,194.98 175.07,196.78 177.58,198.63 180.09,200.54 182.60,202.49 185.11,204.48 187.62,206.52 190.13,208.60 192.64,210.72 195.15,212.88 197.66,215.06 200.17,217.28 202.68,219.53 205.19,221.81 207.70,224.12 210.21,226.45 212.72,228.80 215.23,231.17 217.74,233.56 220.25,235.97 222.76,238.40 225.27,240.83 227.78,243.28 230.29,245.74 232.80,248.21 235.31,250.69 237.82,253.18 240.33,255.67 242.84,258.16 245.35,260.66 247.86,263.16 250.37,265.66 252.88,268.16 255.39,270.66 257.90,273.15 260.41,275.64 262.92,278.13 265.43,280.62 267.94,283.10 270.45,285.58 272.96,288.05 275.47,290.51 277.98,292.97 280.49,295.42 283.00,297.86 285.51,300.30 288.02,302.73 290.53,305.15 293.04,307.56 295.55,309.97 298.06,312.37 300.57,314.76 303.08,317.14 305.59,319.52 308.10,321.88 310.61,324.24 313.12,326.59 315.63,328.93 318.14,331.27 320.65,333.60 323.16,335.91 325.67,338.22 328.18,340.53 330.69,342.82 333.20,345.11 335.71,347.38 338.22,349.65 340.73,351.91 343.24,354.17 345.75,356.41 348.26,358.65 350.77,360.88 353.28,363.10 355.79,365.31 358.30,367.51 360.81,369.71 363.32,371.90 365.83,374.08 368.34,376.25 370.85,378.42 373.36,380.58 375.87,382.73 378.38,384.87 380.89,387.01 383.40,389.14 385.91,391.26 388.42,393.37 390.93,395.48 393.44,397.58 395.95,399.67 398.46,401.76 400.97,403.84 403.48,405.92 405.99,407.98 408.50,410.04"/>
<polyline fill="none" stroke="#3654ff" stroke-width="1.15" points="132.40,190.03 134.91,190.61 137.42,191.29 139.93,192.06 142.44,192.93 144.95,193.89 147.46,194.94 149.97,196.07 152.48,197.28 154.99,198.57 157.50,199.93 160.01,201.37 162.52,202.87 165.03,204.44 167.54,206.07 170.05,207.76 172.56,209.51 175.07,211.31 177.58,213.16 180.09,215.07 182.60,217.02 185.11,219.01 187.62,221.05 190.13,223.13 192.64,225.25 195.15,227.41 197.66,229.59 200.17,231.81 202.68,234.06 205.19,236.34 207.70,238.65 210.21,240.98 212.72,243.33 215.23,245.70 217.74,248.09 220.25,250.50 222.76,252.93 225.27,255.36 227.78,257.81 230.29,260.27 232.80,262.74 235.31,265.22 237.82,267.71 240.33,270.20 242.84,272.69 245.35,275.19 247.86,277.69 250.37,280.19 252.88,282.69 255.39,285.19 257.90,287.68 260.41,290.17 262.92,292.66 265.43,295.15 267.94,297.63 270.45,300.11 272.96,302.58 275.47,305.04 277.98,307.50 280.49,309.95 283.00,312.39 285.51,314.83 288.02,317.26 290.53,319.68 293.04,322.09 295.55,324.50 298.06,326.90 300.57,329.29 303.08,331.67 305.59,334.05 308.10,336.41 310.61,338.77 313.12,341.12 315.63,343.46 318.14,345.80 320.65,348.13 323.16,350.44 325.67,352.75 328.18,355.06 330.69,357.35 333.20,359.64 335.71,361.91 338.22,364.18 340.73,366.44 343.24,368.70 345.75,370.94 348.26,373.18 350.77,375.41 353.28,377.63 355.79,379.84 358.30,382.04 360.81,384.24 363.32,386.43 365.83,388.61 368.34,390.78 370.85,392.95 373.36,395.11 375.87,397.26 378.38,399.40 380.89,401.54 383.40,403.67 385.91,405.79 388.42,407.90 390.93,410.01 393.44,412.11 395.95,414.20 398.46,416.29 400.97,418.37 403.48,420.45 405.99,422.51 408.50,424.57"/>
<polyline fill="none" stroke="#2c2c2c" stroke-width="1.15" points="132.40,204.56 134.91,205.14 137.42,205.82 139.93,206.59 142.44,207.46 144.95,208.42 147.46,209.47 149.97,210.60 152.48,211.81 154.99,213.10 157.50,214.46 160.01,215.90 162.52,217.40 165.03,218.97 167.54,220.60 170.05,222.29 172.56,224.04 175.07,225.84 177.58,227.69 180.09,229.60 182.60,231.55 185.11,233.54 187.62,235.58 190.13,237.66 192.64,239.78 195.15,241.94 197.66,244.12 200.17,246.34 202.68,248.59 205.19,250.87 207.70,253.18 210.21,255.51 212.72,257.86 215.23,260.23 217.74,262.62 220.25,265.03 222.76,267.46 225.27,269.89 227.78,272.34 230.29,274.80 232.80,277.27 235.31,279.75 237.82,282.24 240.33,284.73 242.84,287.22 245.35,289.72 247.86,292.22 250.37,294.72 252.88,297.22 255.39,299.72 257.90,302.21 260.41,304.70 262.92,307.19 265.43,309.68 267.94,312.16 270.45,314.64 272.96,317.11 275.47,319.57 277.98,322.03 280.49,324.48 283.00,326.92 285.51,329.36 288.02,331.79 290.53,334.21 293.04,336.62 295.55,339.03 298.06,341.43 300.57,343.82 303.08,346.20 305.59,348.58 308.10,350.94 310.61,353.30 313.12,355.65 315.63,357.99 318.14,360.33 320.65,362.66 323.16,364.97 325.67,367.28 328.18,369.59 330.69,371.88 333.20,374.17 335.71,376.44 338.22,378.71 340.73,380.97 343.24,383.23 345.75,385.47 348.26,387.71 350.77,389.94 353.28,392.16 355.79,394.37 358.30,396.57 360.81,398.77 363.32,400.96 365.83,403.14 368.34,405.31 370.85,407.48 373.36,409.64 375.87,411.79 378.38,413.93 380.89,416.07 383.40,418.20 385.91,420.32 388.42,422.43 390.93,424.54 393.44,426.64 395.95,428.73 398.46,430.82 400.97,432.90 403.48,434.98 405.99,437.04 408.50,439.10"/>
<polyline fill="none" stroke="#ff4228" stroke-width="1.15" points="132.40,219.09 134.91,219.67 137.42,220.35 139.93,221.12 142.44,221.99 144.95,222.95 147.46,224.00 149.97,225.13 152.48,226.34 154.99,227.63 157.50,228.99 160.01,230.43 162.52,231.93 165.03,233.50 167.54,235.13 170.05,236.82 172.56,238.57 175.07,240.37 177.58,242.22 180.09,244.13 182.60,246.08 185.11,248.07 187.62,250.11 190.13,252.19 192.64,254.31 195.15,256.47 197.66,258.65 200.17,260.87 202.68,263.12 205.19,265.40 207.70,267.71 210.21,270.04 212.72,272.39 215.23,274.76 217.74,277.15 220.25,279.56 222.76,281.99 225.27,284.42 227.78,286.87 230.29,289.33 232.80,291.80 235.31,294.28 237.82,296.77 240.33,299.26 242.84,301.75 245.35,304.25 247.86,306.75 250.37,309.25 252.88,311.75 255.39,314.25 257.90,316.74 260.41,319.23 262.92,321.72 265.43,324.21 267.94,326.69 270.45,329.17 272.96,331.64 275.47,334.10 277.98,336.56 280.49,339.01 283.00,341.45 285.51,343.89 288.02,346.32 290.53,348.74 293.04,351.15 295.55,353.56 298.06,355.96 300.57,358.35 303.08,360.73 305.59,363.11 308.10,365.47 310.61,367.83 313.12,370.18 315.63,372.52 318.14,374.86 320.65,377.19 323.16,379.50 325.67,381.81 328.18,384.12 330.69,386.41 333.20,388.70 335.71,390.97 338.22,393.24 340.73,395.50 343.24,397.76 345.75,400.00 348.26,402.24 350.77,404.47 353.28,406.69 355.79,408.90 358.30,411.10 360.81,413.30 363.32,415.49 365.83,417.67 368.34,419.84 370.85,422.01 373.36,424.17 375.87,426.32 378.38,428.46 380.89,430.60 383.40,432.73 385.91,434.85 388.42,436.96 390.93,439.07 393.44,441.17 395.95,443.26 398.46,445.35 400.97,447.43 403.48,449.51 405.99,451.57 408.50,453.63"/>
<polyline fill="none" stroke="#3654ff" stroke-width="1.15" points="132.40,233.62 134.91,234.20 137.42,234.88 139.93,235.65 142.44,236.52 144.95,237.48 147.46,238.53 149.97,239.66 152.48,240.87 154.99,242.16 157.50,243.52 160.01,244.96 162.52,246.46 165.03,248.03 167.54,249.66 170.05,251.35 172.56,253.10 175.07,254.90 177.58,256.75 180.09,258.66 182.60,260.61 185.11,262.60 187.62,264.64 190.13,266.72 192.64,268.84 195.15,271.00 197.66,273.18 200.17,275.40 202.68,277.65 205.19,279.93 207.70,282.24 210.21,284.57 212.72,286.92 215.23,289.29 217.74,291.68 220.25,294.09 222.76,296.52 225.27,298.95 227.78,301.40 230.29,303.86 232.80,306.33 235.31,308.81 237.82,311.30 240.33,313.79 242.84,316.28 245.35,318.78 247.86,321.28 250.37,323.78 252.88,326.28 255.39,328.78 257.90,331.27 260.41,333.76 262.92,336.25 265.43,338.74 267.94,341.22 270.45,343.70 272.96,346.17 275.47,348.63 277.98,351.09 280.49,353.54 283.00,355.98 285.51,358.42 288.02,360.85 290.53,363.27 293.04,365.68 295.55,368.09 298.06,370.49 300.57,372.88 303.08,375.26 305.59,377.64 308.10,380.00 310.61,382.36 313.12,384.71 315.63,387.05 318.14,389.39 320.65,391.72 323.16,394.03 325.67,396.34 328.18,398.65 330.69,400.94 333.20,403.23 335.71,405.50 338.22,407.77 340.73,410.03 343.24,412.29 345.75,414.53 348.26,416.77 350.77,419.00 353.28,421.22 355.79,423.43 358.30,425.63 360.81,427.83 363.32,430.02 365.83,432.20 368.34,434.37 370.85,436.54 373.36,438.70 375.87,440.85 378.38,442.99 380.89,445.13 383.40,447.26 385.91,449.38 388.42,451.49 390.93,453.60 393.44,455.70 395.95,457.79 398.46,459.88 400.97,461.96 403.48,464.04 405.99,466.10 408.50,468.16"/>
<polyline fill="none" stroke="#2c2c2c" stroke-width="1.15" points="132.40,248.15 134.91,248.73 137.42,249.41 139.93,250.18 142.44,251.05 144.95,252.01 147.46,253.06 149.97,254.19 152.48,255.40 154.99,256.69 157.50,258.05 160.01,259.49 162.52,260.99 165.03,262.56 167.54,264.19 170.05,265.88 172.56,267.63 175.07,269.43 177.58,271.28 180.09,273.19 182.60,275.14 185.11,277.13 187.62,279.17 190.13,281.25 192.64,283.37 195.15,285.53 197.66,287.71 200.17,289.93 202.68,292.18 205.19,294.46 207.70,296.77 210.21,299.10 212.72,301.45 215.23,303.82 217.74,306.21 220.25,308.62 222.76,311.05 225.27,313.48 227.78,315.93 230.29,318.39 232.80,320.86 235.31,323.34 237.82,325.83 240.33,328.32 242.84,330.81 245.35,333.31 247.86,335.81 250.37,338.31 252.88,340.81 255.39,343.31 257.90,345.80 260.41,348.29 262.92,350.78 265.43,353.27 267.94,355.75 270.45,358.23 272.96,360.70 275.47,363.16 277.98,365.62 280.49,368.07 283.00,370.51 285.51,372.95 288.02,375.38 290.53,377.80 293.04,380.21 295.55,382.62 298.06,385.02 300.57,387.41 303.08,389.79 305.59,392.17 308.10,394.53 310.61,396.89 313.12,399.24 315.63,401.58 318.14,403.92 320.65,406.25 323.16,408.56 325.67,410.87 328.18,413.18 330.69,415.47 333.20,417.76 335.71,420.03 338.22,422.30 340.73,424.56 343.24,426.82 345.75,429.06 348.26,431.30 350.77,433.53 353.28,435.75 355.79,437.96 358.30,440.16 360.81,442.36 363.32,444.55 365.83,446.73 368.34,448.90 370.85,451.07 373.36,453.23 375.87,455.38 378.38,457.52 380.89,459.66 383.40,461.79 385.91,463.91 388.42,466.02 390.93,468.13 393.44,470.23 395.95,472.32 398.46,474.41 400.97,476.49 403.48,478.57 405.99,480.63 408.50,482.69"/>
<polyline fill="none" stroke="#ff4228" stroke-width="1.15" points="132.40,262.68 134.91,263.26 137.42,263.94 139.93,264.71 142.44,265.58 144.95,266.54 147.46,267.59 149.97,268.72 152.48,269.93 154.99,271.22 157.50,272.58 160.01,274.02 162.52,275.52 165.03,277.09 167.54,278.72 170.05,280.41 172.56,282.16 175.07,283.96 177.58,285.81 180.09,287.72 182.60,289.67 185.11,291.66 187.62,293.70 190.13,295.78 192.64,297.90 195.15,300.06 197.66,302.24 200.17,304.46 202.68,306.71 205.19,308.99 207.70,311.30 210.21,313.63 212.72,315.98 215.23,318.35 217.74,320.74 220.25,323.15 222.76,325.58 225.27,328.01 227.78,330.46 230.29,332.92 232.80,335.39 235.31,337.87 237.82,340.36 240.33,342.85 242.84,345.34 245.35,347.84 247.86,350.34 250.37,352.84 252.88,355.34 255.39,357.84 257.90,360.33 260.41,362.82 262.92,365.31 265.43,367.80 267.94,370.28 270.45,372.76 272.96,375.23 275.47,377.69 277.98,380.15 280.49,382.60 283.00,385.04 285.51,387.48 288.02,389.91 290.53,392.33 293.04,394.74 295.55,397.15 298.06,399.55 300.57,401.94 303.08,404.32 305.59,406.70 308.10,409.06 310.61,411.42 313.12,413.77 315.63,416.11 318.14,418.45 320.65,420.78 323.16,423.09 325.67,425.40 328.18,427.71 330.69,430.00 333.20,432.29 335.71,434.56 338.22,436.83 340.73,439.09 343.24,441.35 345.75,443.59 348.26,445.83 350.77,448.06 353.28,450.28 355.79,452.49 358.30,454.69 360.81,456.89 363.32,459.08 365.83,461.26 368.34,463.43 370.85,465.60 373.36,467.76 375.87,469.91 378.38,472.05 380.89,474.19 383.40,476.32 385.91,478.44 388.42,480.55 390.93,482.66 393.44,484.76 395.95,486.85 398.46,488.94 400.97,491.02 403.48,493.10 405.99,495.16 408.50,497.22"/>
<polyline fill="none" stroke="#3654ff" stroke-width="1.15" points="132.40,277.21 134.91,277.79 137.42,278.47 139.93,279.24 142.44,280.11 144.95,281.07 147.46,282.12 149.97,283.25 152.48,284.46 154.99,285.75 157.50,287.11 160.01,288.55 162.52,290.05 165.03,291.62 167.54,293.25 170.05,294.94 172.56,296.69 175.07,298.49 177.58,300.34 180.09,302.25 182.60,304.20 185.11,306.19 187.62,308.23 190.13,310.31 192.64,312.43 195.15,314.59 197.66,316.77 200.17,318.99 202.68,321.24 205.19,323.52 207.70,325.83 210.21,328.16 212.72,330.51 215.23,332.88 217.74,335.27 220.25,337.68 222.76,340.11 225.27,342.54 227.78,344.99 230.29,347.45 232.80,349.92 235.31,352.40 237.82,354.89 240.33,357.38 242.84,359.87 245.35,362.37 247.86,364.87 250.37,367.37 252.88,369.87 255.39,372.37 257.90,374.86 260.41,377.35 262.92,379.84 265.43,382.33 267.94,384.81 270.45,387.29 272.96,389.76 275.47,392.22 277.98,394.68 280.49,397.13 283.00,399.57 285.51,402.01 288.02,404.44 290.53,406.86 293.04,409.27 295.55,411.68 298.06,414.08 300.57,416.47 303.08,418.85 305.59,421.23 308.10,423.59 310.61,425.95 313.12,428.30 315.63,430.64 318.14,432.98 320.65,435.31 323.16,437.62 325.67,439.93 328.18,442.24 330.69,444.53 333.20,446.82 335.71,449.09 338.22,451.36 340.73,453.62 343.24,455.88 345.75,458.12 348.26,460.36 350.77,462.59 353.28,464.81 355.79,467.02 358.30,469.22 360.81,471.42 363.32,473.61 365.83,475.79 368.34,477.96 370.85,480.13 373.36,482.29 375.87,484.44 378.38,486.58 380.89,488.72 383.40,490.85 385.91,492.97 388.42,495.08 390.93,497.19 393.44,499.29 395.95,501.38 398.46,503.47 400.97,505.55 403.48,507.63 405.99,509.69 408.50,511.75"/>
<polyline fill="none" stroke="#2c2c2c" stroke-width="1.15" points="132.40,291.74 134.91,292.32 137.42,293.00 139.93,293.77 142.44,294.64 144.95,295.60 147.46,296.65 149.97,297.78 152.48,298.99 154.99,300.28 157.50,301.64 160.01,303.08 162.52,304.58 165.03,306.15 167.54,307.78 170.05,309.47 172.56,311.22 175.07,313.02 177.58,314.87 180.09,316.78 182.60,318.73 185.11,320.72 187.62,322.76 190.13,324.84 192.64,326.96 195.15,329.12 197.66,331.30 200.17,333.52 202.68,335.77 205.19,338.05 207.70,340.36 210.21,342.69 212.72,345.04 215.23,347.41 217.74,349.80 220.25,352.21 222.76,354.64 225.27,357.07 227.78,359.52 230.29,361.98 232.80,364.45 235.31,366.93 237.82,369.42 240.33,371.91 242.84,374.40 245.35,376.90 247.86,379.40 250.37,381.90 252.88,384.40 255.39,386.90 257.90,389.39 260.41,391.88 262.92,394.37 265.43,396.86 267.94,399.34 270.45,401.82 272.96,404.29 275.47,406.75 277.98,409.21 280.49,411.66 283.00,414.10 285.51,416.54 288.02,418.97 290.53,421.39 293.04,423.80 295.55,426.21 298.06,428.61 300.57,431.00 303.08,433.38 305.59,435.76 308.10,438.12 310.61,440.48 313.12,442.83 315.63,445.17 318.14,447.51 320.65,449.84 323.16,452.15 325.67,454.46 328.18,456.77 330.69,459.06 333.20,461.35 335.71,463.62 338.22,465.89 340.73,468.15 343.24,470.41 345.75,472.65 348.26,474.89 350.77,477.12 353.28,479.34 355.79,481.55 358.30,483.75 360.81,485.95 363.32,488.14 365.83,490.32 368.34,492.49 370.85,494.66 373.36,496.82 375.87,498.97 378.38,501.11 380.89,503.25 383.40,505.38 385.91,507.50 388.42,509.61 390.93,511.72 393.44,513.82 395.95,515.91 398.46,518.00 400.97,520.08 403.48,522.16 405.99,524.22 408.50,526.28"/>
<polyline fill="none" stroke="#ff4228" stroke-width="1.15" points="132.40,297.73 134.91,298.31 137.42,298.99 139.93,299.76 142.44,300.63 144.95,301.59 147.46,302.64 149.97,303.77 152.48,304.98 154.99,306.27 157.50,307.63 160.01,309.07 162.52,310.57 165.03,312.14 167.54,313.77 170.05,315.46 172.56,317.21 175.07,319.01 177.58,320.86 180.09,322.77 182.60,324.72 185.11,326.71 187.62,328.75 190.13,330.83 192.64,332.95 195.15,335.11 197.66,337.29 200.17,339.51 202.68,341.76 205.19,344.04 207.70,346.35 210.21,348.68 212.72,351.03 215.23,353.40 217.74,355.79 220.25,358.20 222.76,360.63 225.27,363.06 227.78,365.51 230.29,367.97 232.80,370.44 235.31,372.92 237.82,375.41 240.33,377.90 242.84,380.39 245.35,382.89 247.86,385.39 250.37,387.89 252.88,390.39 255.39,392.89 257.90,395.38 260.41,397.87 262.92,400.36 265.43,402.85 267.94,405.33 270.45,407.81 272.96,410.28 275.47,412.74 277.98,415.20 280.49,417.65 283.00,420.09 285.51,422.53 288.02,424.96 290.53,427.38 293.04,429.79 295.55,432.20 298.06,434.60 300.57,436.99 303.08,439.37 305.59,441.75 308.10,444.11 310.61,446.47 313.12,448.82 315.63,451.16 318.14,453.50 320.65,455.83 323.16,458.14 325.67,460.45 328.18,462.76 330.69,465.05 333.20,467.34 335.71,469.61 338.22,471.88 340.73,474.14 343.24,476.40 345.75,478.64 348.26,480.88 350.77,483.11 353.28,485.33 355.79,487.54 358.30,489.74 360.81,491.94 363.32,494.13 365.83,496.31 368.34,498.48 370.85,500.65 373.36,502.81 375.87,504.96 378.38,507.10 380.89,509.24 383.40,511.37 385.91,513.49 388.42,515.60 390.93,517.71 393.44,519.81 395.95,521.90 398.46,523.99 400.97,526.07 403.48,528.15 405.99,530.21 408.50,532.27"/>
<polyline fill="none" stroke="#3654ff" stroke-width="1.15" points="132.40,303.73 134.91,304.31 137.42,304.99 139.93,305.76 142.44,306.63 144.95,307.59 147.46,308.64 149.97,309.77 152.48,310.98 154.99,312.27 157.50,313.63 160.01,315.07 162.52,316.57 165.03,318.14 167.54,319.77 170.05,321.46 172.56,323.21 175.07,325.01 177.58,326.86 180.09,328.77 182.60,330.72 185.11,332.71 187.62,334.75 190.13,336.83 192.64,338.95 195.15,341.11 197.66,343.29 200.17,345.51 202.68,347.76 205.19,350.04 207.70,352.35 210.21,354.68 212.72,357.03 215.23,359.40 217.74,361.79 220.25,364.20 222.76,366.63 225.27,369.06 227.78,371.51 230.29,373.97 232.80,376.44 235.31,378.92 237.82,381.41 240.33,383.90 242.84,386.39 245.35,388.89 247.86,391.39 250.37,393.89 252.88,396.39 255.39,398.89 257.90,401.38 260.41,403.87 262.92,406.36 265.43,408.85 267.94,411.33 270.45,413.81 272.96,416.28 275.47,418.74 277.98,421.20 280.49,423.65 283.00,426.09 285.51,428.53 288.02,430.96 290.53,433.38 293.04,435.79 295.55,438.20 298.06,440.60 300.57,442.99 303.08,445.37 305.59,447.75 308.10,450.11 310.61,452.47 313.12,454.82 315.63,457.16 318.14,459.50 320.65,461.83 323.16,464.14 325.67,466.45 328.18,468.76 330.69,471.05 333.20,473.34 335.71,475.61 338.22,477.88 340.73,480.14 343.24,482.40 345.75,484.64 348.26,486.88 350.77,489.11 353.28,491.33 355.79,493.54 358.30,495.74 360.81,497.94 363.32,500.13 365.83,502.31 368.34,504.48 370.85,506.65 373.36,508.81 375.87,510.96 378.38,513.10 380.89,515.24 383.40,517.37 385.91,519.49 388.42,521.60 390.93,523.71 393.44,525.81 395.95,527.90 398.46,529.99 400.97,532.07 403.48,534.15 405.99,536.21 408.50,538.27"/>
<polyline fill="none" stroke="#2c2c2c" stroke-width="1.15" points="132.40,309.73 134.91,310.31 137.42,310.99 139.93,311.76 142.44,312.63 144.95,313.59 147.46,314.64 149.97,315.77 152.48,316.98 154.99,318.27 157.50,319.63 160.01,321.07 162.52,322.57 165.03,324.14 167.54,325.77 170.05,327.46 172.56,329.21 175.07,331.01 177.58,332.86 180.09,334.77 182.60,336.72 185.11,338.71 187.62,340.75 190.13,342.83 192.64,344.95 195.15,347.11 197.66,349.29 200.17,351.51 202.68,353.76 205.19,356.04 207.70,358.35 210.21,360.68 212.72,363.03 215.23,365.40 217.74,367.79 220.25,370.20 222.76,372.63 225.27,375.06 227.78,377.51 230.29,379.97 232.80,382.44 235.31,384.92 237.82,387.41 240.33,389.90 242.84,392.39 245.35,394.89 247.86,397.39 250.37,399.89 252.88,402.39 255.39,404.89 257.90,407.38 260.41,409.87 262.92,412.36 265.43,414.85 267.94,417.33 270.45,419.81 272.96,422.28 275.47,424.74 277.98,427.20 280.49,429.65 283.00,432.09 285.51,434.53 288.02,436.96 290.53,439.38 293.04,441.79 295.55,444.20 298.06,446.60 300.57,448.99 303.08,451.37 305.59,453.75 308.10,456.11 310.61,458.47 313.12,460.82 315.63,463.16 318.14,465.50 320.65,467.83 323.16,470.14 325.67,472.45 328.18,474.76 330.69,477.05 333.20,479.34 335.71,481.61 338.22,483.88 340.73,486.14 343.24,488.40 345.75,490.64 348.26,492.88 350.77,495.11 353.28,497.33 355.79,499.54 358.30,501.74 360.81,503.94 363.32,506.13 365.83,508.31 368.34,510.48 370.85,512.65 373.36,514.81 375.87,516.96 378.38,519.10 380.89,521.24 383.40,523.37 385.91,525.49 388.42,527.60 390.93,529.71 393.44,531.81 395.95,533.90 398.46,535.99 400.97,538.07 403.48,540.15 405.99,542.21 408.50,544.27"/>
<polyline fill="none" stroke="#ff4228" stroke-width="1.15" points="132.40,315.73 134.91,316.31 137.42,316.99 139.93,317.76 142.44,318.63 144.95,319.59 147.46,320.64 149.97,321.77 152.48,322.98 154.99,324.27 157.50,325.63 160.01,327.07 162.52,328.57 165.03,330.14 167.54,331.77 170.05,333.46 172.56,335.21 175.07,337.01 177.58,338.86 180.09,340.77 182.60,342.72 185.11,344.71 187.62,346.75 190.13,348.83 192.64,350.95 195.15,353.11 197.66,355.29 200.17,357.51 202.68,359.76 205.19,362.04 207.70,364.35 210.21,366.68 212.72,369.03 215.23,371.40 217.74,373.79 220.25,376.20 222.76,378.63 225.27,381.06 227.78,383.51 230.29,385.97 232.80,388.44 235.31,390.92 237.82,393.41 240.33,395.90 242.84,398.39 245.35,400.89 247.86,403.39 250.37,405.89 252.88,408.39 255.39,410.89 257.90,413.38 260.41,415.87 262.92,418.36 265.43,420.85 267.94,423.33 270.45,425.81 272.96,428.28 275.47,430.74 277.98,433.20 280.49,435.65 283.00,438.09 285.51,440.53 288.02,442.96 290.53,445.38 293.04,447.79 295.55,450.20 298.06,452.60 300.57,454.99 303.08,457.37 305.59,459.75 308.10,462.11 310.61,464.47 313.12,466.82 315.63,469.16 318.14,471.50 320.65,473.83 323.16,476.14 325.67,478.45 328.18,480.76 330.69,483.05 333.20,485.34 335.71,487.61 338.22,489.88 340.73,492.14 343.24,494.40 345.75,496.64 348.26,498.88 350.77,501.11 353.28,503.33 355.79,505.54 358.30,507.74 360.81,509.94 363.32,512.13 365.83,514.31 368.34,516.48 370.85,518.65 373.36,520.81 375.87,522.96 378.38,525.10 380.89,527.24 383.40,529.37 385.91,531.49 388.42,533.60 390.93,535.71 393.44,537.81 395.95,539.90 398.46,541.99 400.97,544.07 403.48,546.15 405.99,548.21 408.50,550.27"/>
<polyline fill="none" stroke="#3654ff" stroke-width="1.15" points="132.40,321.73 134.91,322.31 137.42,322.99 139.93,323.76 142.44,324.63 144.95,325.59 147.46,326.64 149.97,327.77 152.48,328.98 154.99,330.27 157.50,331.63 160.01,333.07 162.52,334.57 165.03,336.14 167.54,337.77 170.05,339.46 172.56,341.21 175.07,343.01 177.58,344.86 180.09,346.77 182.60,348.72 185.11,350.71 187.62,352.75 190.13,354.83 192.64,356.95 195.15,359.11 197.66,361.29 200.17,363.51 202.68,365.76 205.19,368.04 207.70,370.35 210.21,372.68 212.72,375.03 215.23,377.40 217.74,379.79 220.25,382.20 222.76,384.63 225.27,387.06 227.78,389.51 230.29,391.97 232.80,394.44 235.31,396.92 237.82,399.41 240.33,401.90 242.84,404.39 245.35,406.89 247.86,409.39 250.37,411.89 252.88,414.39 255.39,416.89 257.90,419.38 260.41,421.87 262.92,424.36 265.43,426.85 267.94,429.33 270.45,431.81 272.96,434.28 275.47,436.74 277.98,439.20 280.49,441.65 283.00,444.09 285.51,446.53 288.02,448.96 290.53,451.38 293.04,453.79 295.55,456.20 298.06,458.60 300.57,460.99 303.08,463.37 305.59,465.75 308.10,468.11 310.61,470.47 313.12,472.82 315.63,475.16 318.14,477.50 320.65,479.83 323.16,482.14 325.67,484.45 328.18,486.76 330.69,489.05 333.20,491.34 335.71,493.61 338.22,495.88 340.73,498.14 343.24,500.40 345.75,502.64 348.26,504.88 350.77,507.11 353.28,509.33 355.79,511.54 358.30,513.74 360.81,515.94 363.32,518.13 365.83,520.31 368.34,522.48 370.85,524.65 373.36,526.81 375.87,528.96 378.38,531.10 380.89,533.24 383.40,535.37 385.91,537.49 388.42,539.60 390.93,541.71 393.44,543.81 395.95,545.90 398.46,547.99 400.97,550.07 403.48,552.15 405.99,554.21 408.50,556.27"/>
<path d="M125.4,21.2V600.2H414.8V21.2Z" fill="none" stroke="#000" stroke-width="0.45"/>
<path d="M132.40,600.2v-2.5M132.40,21.2v2.5M144.95,600.2v-1.5M144.95,21.2v1.5M157.50,600.2v-1.5M157.50,21.2v1.5M170.05,600.2v-1.5M170.05,21.2v1.5M182.60,600.2v-1.5M182.60,21.2v1.5M195.15,600.2v-2.5M195.15,21.2v2.5M207.70,600.2v-1.5M207.70,21.2v1.5M220.25,600.2v-1.5M220.25,21.2v1.5M232.80,600.2v-1.5M232.80,21.2v1.5M245.35,600.2v-1.5M245.35,21.2v1.5M257.90,600.2v-2.5M257.90,21.2v2.5M270.45,600.2v-1.5M270.45,21.2v1.5M283.00,600.2v-1.5M283.00,21.2v1.5M295.55,600.2v-1.5M295.55,21.2v1.5M308.10,600.2v-1.5M308.10,21.2v1.5M320.65,600.2v-2.5M320.65,21.2v2.5M333.20,600.2v-1.5M333.20,21.2v1.5M345.75,600.2v-1.5M345.75,21.2v1.5M358.30,600.2v-1.5M358.30,21.2v1.5M370.85,600.2v-1.5M370.85,21.2v1.5M383.40,600.2v-2.5M383.40,21.2v2.5M395.95,600.2v-1.5M395.95,21.2v1.5M408.50,600.2v-1.5M408.50,21.2v1.5M125.4,65.63h1.7M414.8,65.63h-1.7M125.4,52.00h1.7M414.8,52.00h-1.7M125.4,43.81h1.7M414.8,43.81h-1.7M125.4,37.93h1.7M414.8,37.93h-1.7M125.4,33.35h1.7M414.8,33.35h-1.7M125.4,29.59h1.7M414.8,29.59h-1.7M125.4,26.41h1.7M414.8,26.41h-1.7M125.4,23.64h1.7M414.8,23.64h-1.7M125.4,117.70h2.7M414.8,117.70h-2.7M125.4,162.13h1.7M414.8,162.13h-1.7M125.4,148.50h1.7M414.8,148.50h-1.7M125.4,140.31h1.7M414.8,140.31h-1.7M125.4,134.43h1.7M414.8,134.43h-1.7M125.4,129.85h1.7M414.8,129.85h-1.7M125.4,126.09h1.7M414.8,126.09h-1.7M125.4,122.91h1.7M414.8,122.91h-1.7M125.4,120.14h1.7M414.8,120.14h-1.7M125.4,214.20h2.7M414.8,214.20h-2.7M125.4,258.63h1.7M414.8,258.63h-1.7M125.4,245.00h1.7M414.8,245.00h-1.7M125.4,236.81h1.7M414.8,236.81h-1.7M125.4,230.93h1.7M414.8,230.93h-1.7M125.4,226.35h1.7M414.8,226.35h-1.7M125.4,222.59h1.7M414.8,222.59h-1.7M125.4,219.41h1.7M414.8,219.41h-1.7M125.4,216.64h1.7M414.8,216.64h-1.7M125.4,310.70h2.7M414.8,310.70h-2.7M125.4,355.13h1.7M414.8,355.13h-1.7M125.4,341.50h1.7M414.8,341.50h-1.7M125.4,333.31h1.7M414.8,333.31h-1.7M125.4,327.43h1.7M414.8,327.43h-1.7M125.4,322.85h1.7M414.8,322.85h-1.7M125.4,319.09h1.7M414.8,319.09h-1.7M125.4,315.91h1.7M414.8,315.91h-1.7M125.4,313.14h1.7M414.8,313.14h-1.7M125.4,407.20h2.7M414.8,407.20h-2.7M125.4,451.63h1.7M414.8,451.63h-1.7M125.4,438.00h1.7M414.8,438.00h-1.7M125.4,429.81h1.7M414.8,429.81h-1.7M125.4,423.93h1.7M414.8,423.93h-1.7M125.4,419.35h1.7M414.8,419.35h-1.7M125.4,415.59h1.7M414.8,415.59h-1.7M125.4,412.41h1.7M414.8,412.41h-1.7M125.4,409.64h1.7M414.8,409.64h-1.7M125.4,503.70h2.7M414.8,503.70h-2.7M125.4,548.13h1.7M414.8,548.13h-1.7M125.4,534.50h1.7M414.8,534.50h-1.7M125.4,526.31h1.7M414.8,526.31h-1.7M125.4,520.43h1.7M414.8,520.43h-1.7M125.4,515.85h1.7M414.8,515.85h-1.7M125.4,512.09h1.7M414.8,512.09h-1.7M125.4,508.91h1.7M414.8,508.91h-1.7M125.4,506.14h1.7M414.8,506.14h-1.7" fill="none" stroke="#000" stroke-width="0.4"/>
<text transform="translate(93.20,25.30) scale(1.1,1)" font-family="Liberation Serif, serif" font-size="16" font-weight="normal" text-anchor="middle" stroke="#000" stroke-width="0.22">1</text><text transform="translate(103.80,25.30) scale(1.1,1)" font-family="Liberation Serif, serif" font-size="16" font-weight="normal" text-anchor="middle" stroke="#000" stroke-width="0.22">0</text><text transform="translate(114.40,25.30) scale(1.1,1)" font-family="Liberation Serif, serif" font-size="16" font-weight="normal" text-anchor="middle" stroke="#000" stroke-width="0.22">0</text>
<text transform="translate(114.40,121.80) scale(1.1,1)" font-family="Liberation Serif, serif" font-size="16" font-weight="normal" text-anchor="middle" stroke="#000" stroke-width="0.22">1</text>
<text transform="translate(82.60,218.30) scale(1.1,1)" font-family="Liberation Serif, serif" font-size="16" font-weight="normal" text-anchor="middle" stroke="#000" stroke-width="0.22">0</text><circle cx="93.20" cy="217.10" r="1.2" fill="#000"/><text transform="translate(103.80,218.30) scale(1.1,1)" font-family="Liberation Serif, serif" font-size="16" font-weight="normal" text-anchor="middle" stroke="#000" stroke-width="0.22">0</text><text transform="translate(114.40,218.30) scale(1.1,1)" font-family="Liberation Serif, serif" font-size="16" font-weight="normal" text-anchor="middle" stroke="#000" stroke-width="0.22">1</text>
<text transform="translate(61.40,314.80) scale(1.1,1)" font-family="Liberation Serif, serif" font-size="16" font-weight="normal" text-anchor="middle" stroke="#000" stroke-width="0.22">0</text><circle cx="72.00" cy="313.60" r="1.2" fill="#000"/><text transform="translate(82.60,314.80) scale(1.1,1)" font-family="Liberation Serif, serif" font-size="16" font-weight="normal" text-anchor="middle" stroke="#000" stroke-width="0.22">0</text><text transform="translate(93.20,314.80) scale(1.1,1)" font-family="Liberation Serif, serif" font-size="16" font-weight="normal" text-anchor="middle" stroke="#000" stroke-width="0.22">0</text><text transform="translate(103.80,314.80) scale(1.1,1)" font-family="Liberation Serif, serif" font-size="16" font-weight="normal" text-anchor="middle" stroke="#000" stroke-width="0.22">0</text><text transform="translate(114.40,314.80) scale(1.1,1)" font-family="Liberation Serif, serif" font-size="16" font-weight="normal" text-anchor="middle" stroke="#000" stroke-width="0.22">1</text>
<text transform="translate(49.10,412.20) scale(1.1,1)" font-family="Liberation Serif, serif" font-size="16.2" font-weight="normal" text-anchor="middle" stroke="#000" stroke-width="0.45">1</text><circle cx="59.00" cy="410.90" r="1.3" fill="#000"/>
<path d="M69.8,405.2l8,7.4M77.8,405.2l-8,7.4" stroke="#222" stroke-width="0.65" fill="none"/>
<text transform="translate(86.90,412.20) scale(1.1,1)" font-family="Liberation Serif, serif" font-size="16" font-weight="normal" text-anchor="middle" stroke="#000" stroke-width="0.22">1</text><text transform="translate(97.50,412.20) scale(1.1,1)" font-family="Liberation Serif, serif" font-size="16" font-weight="normal" text-anchor="middle" stroke="#000" stroke-width="0.22">0</text>
<path d="M104.3,401.09999999999997h4.2" stroke="#111" stroke-width="0.8"/>
<text transform="translate(114.40,406.20) scale(1.2,1)" font-family="Liberation Serif, serif" font-size="12" font-weight="normal" text-anchor="middle" >6</text>
<text transform="translate(49.10,508.80) scale(1.1,1)" font-family="Liberation Serif, serif" font-size="16.2" font-weight="normal" text-anchor="middle" stroke="#000" stroke-width="0.45">1</text><circle cx="59.00" cy="507.50" r="1.3" fill="#000"/>
<path d="M69.8,501.8l8,7.4M77.8,501.8l-8,7.4" stroke="#222" stroke-width="0.65" fill="none"/>
<text transform="translate(86.90,508.80) scale(1.1,1)" font-family="Liberation Serif, serif" font-size="16" font-weight="normal" text-anchor="middle" stroke="#000" stroke-width="0.22">1</text><text transform="translate(97.50,508.80) scale(1.1,1)" font-family="Liberation Serif, serif" font-size="16" font-weight="normal" text-anchor="middle" stroke="#000" stroke-width="0.22">0</text>
<path d="M104.3,497.7h4.2" stroke="#111" stroke-width="0.8"/>
<text transform="translate(114.40,502.80) scale(1.2,1)" font-family="Liberation Serif, serif" font-size="12" font-weight="normal" text-anchor="middle" >8</text>
<text transform="translate(132.40,618.30) scale(1.1,1)" font-family="Liberation Serif, serif" font-size="16" font-weight="normal" text-anchor="middle" stroke="#000" stroke-width="0.22">0</text>
<text transform="translate(184.55,618.30) scale(1.1,1)" font-family="Liberation Serif, serif" font-size="16" font-weight="normal" text-anchor="middle" stroke="#000" stroke-width="0.22">0</text><circle cx="195.15" cy="617.10" r="1.2" fill="#000"/><text transform="translate(205.75,618.30) scale(1.1,1)" font-family="Liberation Serif, serif" font-size="16" font-weight="normal" text-anchor="middle" stroke="#000" stroke-width="0.22">5</text>
<text transform="translate(257.90,618.30) scale(1.1,1)" font-family="Liberation Serif, serif" font-size="16" font-weight="normal" text-anchor="middle" stroke="#000" stroke-width="0.22">1</text>
<text transform="translate(310.05,618.30) scale(1.1,1)" font-family="Liberation Serif, serif" font-size="16" font-weight="normal" text-anchor="middle" stroke="#000" stroke-width="0.22">1</text><circle cx="320.65" cy="617.10" r="1.2" fill="#000"/><text transform="translate(331.25,618.30) scale(1.1,1)" font-family="Liberation Serif, serif" font-size="16" font-weight="normal" text-anchor="middle" stroke="#000" stroke-width="0.22">5</text>
<text transform="translate(383.40,618.30) scale(1.1,1)" font-family="Liberation Serif, serif" font-size="16" font-weight="normal" text-anchor="middle" stroke="#000" stroke-width="0.22">2</text>
<text transform="translate(239.60,637.10) scale(1.17,1)" font-family="Liberation Serif, serif" font-size="16.2" font-weight="normal" text-anchor="middle" stroke="#000" stroke-width="0.45">p</text>
<text transform="translate(248.10,639.40)" font-family="Liberation Serif, serif" font-size="10.5" font-weight="normal" text-anchor="middle" >T</text>
<path d="M261.6,626.2Q255.8,633.5 261.6,640.8M298,626.2Q303.8,633.5 298,640.8" stroke="#111" stroke-width="0.75" fill="none"/>
<text transform="translate(269.40,637.10) scale(0.82,1)" font-family="Liberation Serif, serif" font-size="16.2" font-weight="normal" text-anchor="middle" stroke="#000" stroke-width="0.45">G</text><text transform="translate(280.00,637.10) scale(1.22,1)" font-family="Liberation Serif, serif" font-size="16.2" font-weight="normal" text-anchor="middle" stroke="#000" stroke-width="0.45">e</text><text transform="translate(290.60,637.10) scale(0.9,1)" font-family="Liberation Serif, serif" font-size="16.2" font-weight="normal" text-anchor="middle" stroke="#000" stroke-width="0.45">V</text>
<text transform="translate(137.80,12.00) scale(1.17,1)" font-family="Liberation Serif, serif" font-size="16.2" font-weight="normal" text-anchor="middle" stroke="#000" stroke-width="0.45">p</text>
<text transform="translate(180.50,12.00) scale(1.17,1)" font-family="Liberation Serif, serif" font-size="16.2" font-weight="normal" text-anchor="middle" stroke="#000" stroke-width="0.45">p</text>
<text transform="translate(285.30,12.00) scale(0.9,1)" font-family="Liberation Serif, serif" font-size="16.2" font-weight="normal" text-anchor="middle" stroke="#000" stroke-width="0.45">X</text>
<text transform="translate(349.20,12.00) scale(0.97,1)" font-family="Liberation Serif, serif" font-size="16.2" font-weight="normal" text-anchor="middle" stroke="#000" stroke-width="0.45">E</text><path transform="translate(359.70,12.00)" d="M-0.85,-10.4h1.7v9.2h-1.7zM-3.4,-10.4h3.4v1.4h-3.4zM-4,-1.4h8v1.4h-8z" fill="#000"/><path transform="translate(370.20,12.00)" d="M-0.85,-10.4h1.7v9.2h-1.7zM-3.4,-10.4h3.4v1.4h-3.4zM-4,-1.4h8v1.4h-8z" fill="#000"/><path transform="translate(380.70,12.00)" d="M-0.85,-7.4h1.7v6.2h-1.7zM-3.4,-7.4h3.4v1.4h-3.4zM-4,-1.4h8v1.4h-8zM-1.1,-11h2v1.9h-2z" fill="#000"/><text transform="translate(391.20,12.00) scale(1.3,1)" font-family="Liberation Serif, serif" font-size="16.2" font-weight="normal" text-anchor="middle" stroke="#000" stroke-width="0.45">s</text>
<path d="M155.2,8h8.4M159.4,3.8v8.4M259.6,8h8.4M263.8,3.8v8.4M198.4,8h7.4M208.2,4.4L216.6,8L208.2,11.6M240.4,2h4.5" stroke="#111" stroke-width="0.8" fill="none"/>
<path d="M340.7,1.1Q334.6,8 340.7,14.9M399.2,1.1Q405.3,8 399.2,14.9" stroke="#111" stroke-width="0.8" fill="none"/>
<text transform="translate(234.00,11.80)" font-family="Liberation Serif, serif" font-size="17.5" font-weight="normal" font-style="italic" text-anchor="middle" >π</text>
<text transform="translate(24.20,383.70) rotate(-90) scale(0.97,1)" font-family="Liberation Serif, serif" font-size="16" font-weight="normal" text-anchor="middle" stroke="#000" stroke-width="0.3">E</text>
<text transform="translate(14.70,367.30) rotate(-90) scale(1.17,1)" font-family="Liberation Serif, serif" font-size="16" font-weight="normal" text-anchor="middle" stroke="#000" stroke-width="0.3">d</text>
<text transform="translate(8.30,358.50) rotate(-90) scale(1.2,1)" font-family="Liberation Serif, serif" font-size="11.5" font-weight="normal" text-anchor="middle" >3</text>
<text transform="translate(14.70,342.20) rotate(-90) scale(1.15,1)" font-family="Liberation Serif, serif" font-size="17" font-weight="normal" text-anchor="middle" style="fill:#555">σ</text>
<text transform="translate(36.00,367.30) rotate(-90) scale(1.17,1)" font-family="Liberation Serif, serif" font-size="16" font-weight="normal" text-anchor="middle" stroke="#000" stroke-width="0.3">d</text>
<text transform="translate(30.00,358.80) rotate(-90) scale(1.2,1)" font-family="Liberation Serif, serif" font-size="11.5" font-weight="normal" text-anchor="middle" >3</text>
<text transform="translate(36.00,342.70) rotate(-90) scale(1.17,1)" font-family="Liberation Serif, serif" font-size="16.2" font-weight="normal" text-anchor="middle" stroke="#000" stroke-width="0.45">p</text>
<text transform="translate(15.20,286.90) rotate(-90) scale(0.86,1)" font-family="Liberation Serif, serif" font-size="16" font-weight="normal" text-anchor="middle" stroke="#000" stroke-width="0.3">m</text><text transform="translate(15.20,276.60) rotate(-90) scale(1.17,1)" font-family="Liberation Serif, serif" font-size="16" font-weight="normal" text-anchor="middle" stroke="#000" stroke-width="0.3">b</text>
<text transform="translate(37.40,311.00) rotate(-90) scale(0.82,1)" font-family="Liberation Serif, serif" font-size="16" font-weight="normal" text-anchor="middle" stroke="#000" stroke-width="0.3">G</text><text transform="translate(37.40,300.50) rotate(-90) scale(1.22,1)" font-family="Liberation Serif, serif" font-size="16" font-weight="normal" text-anchor="middle" stroke="#000" stroke-width="0.3">e</text><text transform="translate(37.40,290.00) rotate(-90) scale(0.9,1)" font-family="Liberation Serif, serif" font-size="16" font-weight="normal" text-anchor="middle" stroke="#000" stroke-width="0.3">V</text>
<text transform="translate(30.60,279.90) rotate(-90) scale(1.2,1)" font-family="Liberation Serif, serif" font-size="11.5" font-weight="normal" text-anchor="middle" >2</text>
<text transform="translate(37.40,268.00) rotate(-90) scale(1.3,1)" font-family="Liberation Serif, serif" font-size="16" font-weight="normal" text-anchor="middle" stroke="#000" stroke-width="0.3">s</text><text transform="translate(37.40,256.70) rotate(-90) scale(1.45,1)" font-family="Liberation Serif, serif" font-size="16" font-weight="normal" text-anchor="middle" stroke="#000" stroke-width="0.3">r</text>
<path d="M19.6,334.8V375.2M19.3,246.2V318.2" stroke="#000" stroke-width="0.6" fill="none"/>
<path d="M12.6,323.1Q20,330.6 27.9,323.1M12.5,241.1Q20,233.6 28,241.1" stroke="#111" stroke-width="0.75" fill="none"/>
</svg></body></html>
